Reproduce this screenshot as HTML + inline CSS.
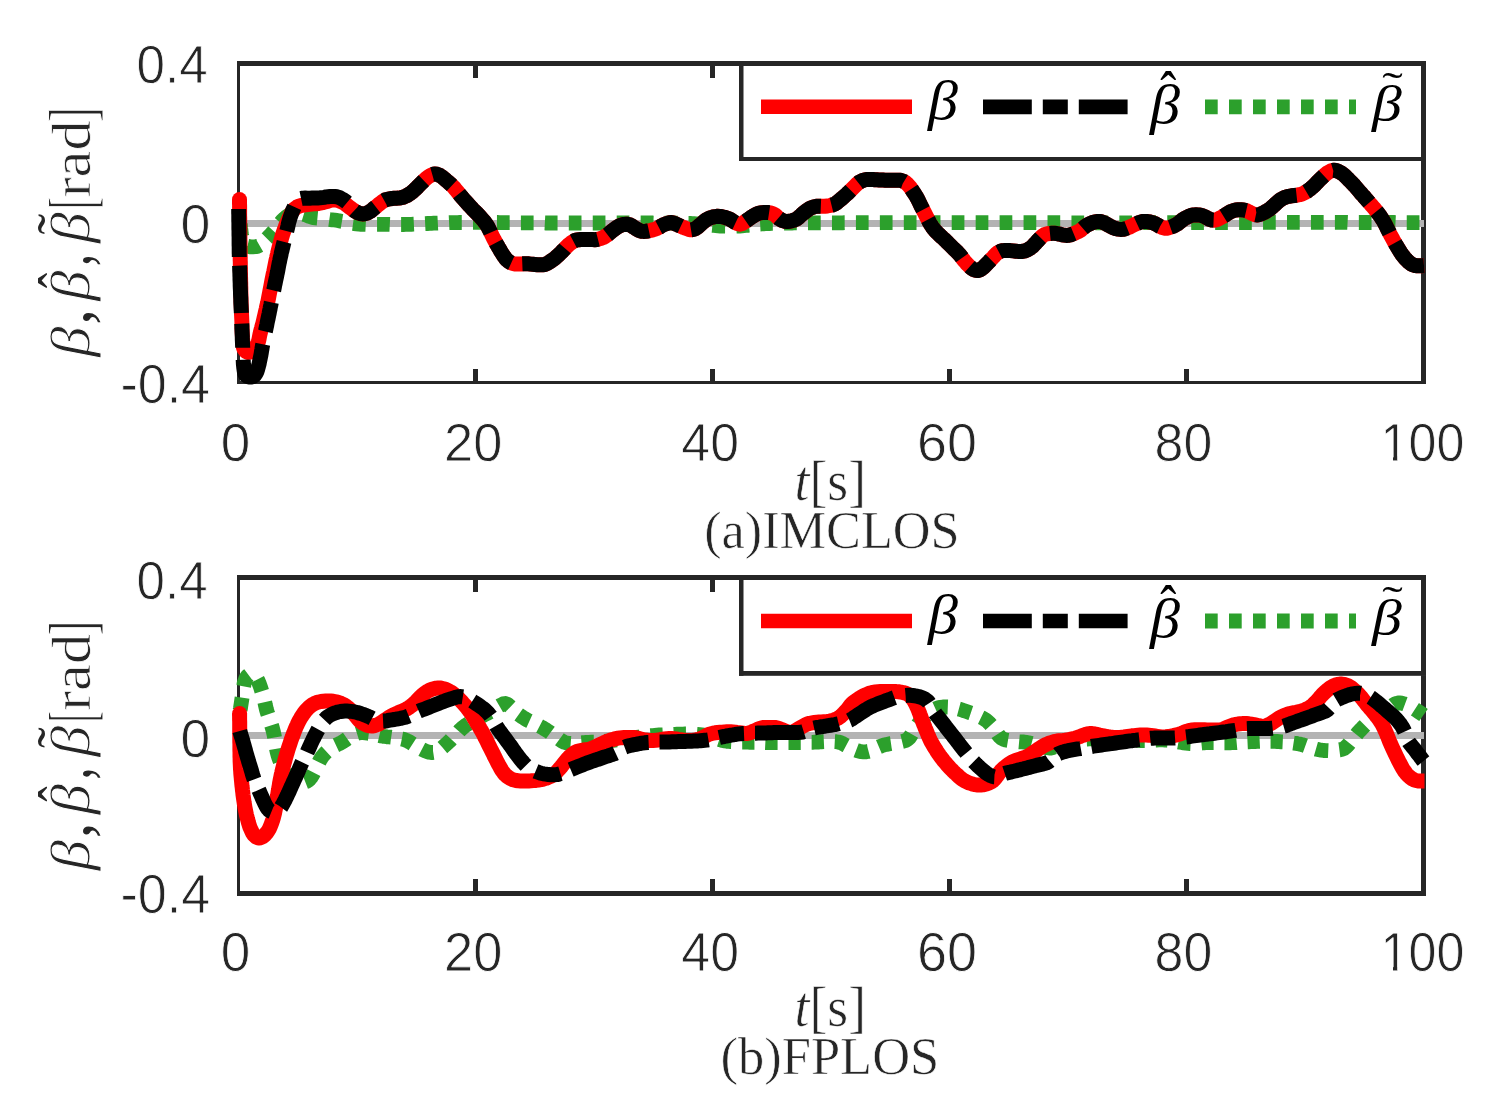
<!DOCTYPE html>
<html><head><meta charset="utf-8"><title>plot</title><style>html,body{margin:0;padding:0;background:#fff;}svg{display:block;}</style></head><body>
<svg width="1491" height="1099" viewBox="0 0 1491 1099">
<rect x="0" y="0" width="1491" height="1099" fill="#ffffff"/>
<defs><clipPath id="nofoot0"><rect x="1370" y="396.6" width="110" height="60"/><rect x="1393" y="456.6" width="4.2" height="6"/><rect x="1406" y="456.6" width="70" height="8"/></clipPath><clipPath id="nofoot1"><rect x="1370" y="905.9" width="110" height="60"/><rect x="1393" y="965.9" width="4.2" height="6"/><rect x="1406" y="965.9" width="70" height="8"/></clipPath></defs>
<rect x="237" y="61" width="3" height="323" fill="#262626"/>
<rect x="1421" y="61" width="5" height="323" fill="#262626"/>
<rect x="237" y="61" width="1189" height="5" fill="#262626"/>
<rect x="237" y="381" width="1189" height="3" fill="#262626"/>
<rect x="473.0" y="369" width="5" height="12" fill="#262626"/>
<rect x="473.0" y="66" width="5" height="12" fill="#262626"/>
<rect x="710.0" y="369" width="5" height="12" fill="#262626"/>
<rect x="710.0" y="66" width="5" height="12" fill="#262626"/>
<rect x="947.0" y="369" width="5" height="12" fill="#262626"/>
<rect x="947.0" y="66" width="5" height="12" fill="#262626"/>
<rect x="1184.0" y="369" width="5" height="12" fill="#262626"/>
<rect x="1184.0" y="66" width="5" height="12" fill="#262626"/>
<rect x="240" y="221.0" width="12" height="5" fill="#262626"/>
<rect x="1409" y="221.0" width="12" height="5" fill="#262626"/>
<line x1="238.5" y1="223.5" x2="1424" y2="223.5" stroke="#b3b3b3" stroke-width="7"/>
<path d="M239.5,213.0 239.7,215.2 239.8,217.4 239.9,219.6 240.1,221.8 240.3,224.0 240.5,226.2 240.7,228.5 241.0,230.8 241.2,232.9 241.6,235.0 242.2,237.7 242.8,240.3 243.8,242.5 245.4,244.7 247.5,246.2 250.2,246.8 253.0,246.8 255.6,246.7 258.0,246.2 260.1,245.0 262.0,243.5 263.8,241.8" fill="none" stroke="#2ca02c" stroke-width="14.8" stroke-dasharray="12.70 11.25" stroke-dashoffset="13.00" stroke-linejoin="round"/>
<path d="M263.8,241.8 265.5,240.0 267.2,238.3 269.0,236.4 270.6,234.7 272.3,232.9 274.0,231.0 275.3,229.4 276.5,227.8" fill="none" stroke="#2ca02c" stroke-width="14.8" stroke-dasharray="10.03 8.89" stroke-dashoffset="14.46" stroke-linejoin="round"/>
<path d="M276.5,227.8 277.7,226.1 279.0,224.5 280.3,222.9 281.6,221.4 283.0,219.9 284.5,218.5 286.2,217.0 288.1,215.6 290.1,214.4 292.0,213.5 294.3,213.0 296.7,213.0 299.0,213.2 301.4,213.6 303.7,214.3 306.0,215.0 308.0,215.8 309.9,216.6 312.0,217.3 313.8,217.7 315.7,218.0 317.8,218.2 320.0,218.5 321.8,218.7 323.7,218.9" fill="none" stroke="#2ca02c" stroke-width="14.8" stroke-dasharray="14.29 12.66" stroke-dashoffset="20.59" stroke-linejoin="round"/>
<path d="M323.7,218.9 325.8,219.1 328.0,219.3 330.1,219.6 332.3,219.8 334.4,220.0 336.3,220.3 338.8,220.7 341.1,221.2 343.4,221.6 345.7,222.1 348.0,222.5 350.2,222.9 352.2,223.3 354.4,223.6 356.6,223.9 359.1,224.2 360.8,224.3 362.6,224.4 364.5,224.4 366.5,224.5 368.5,224.5 370.6,224.5 372.7,224.5 374.9,224.4 377.0,224.4 379.2,224.4 381.3,224.4 383.3,224.4 385.3,224.4 387.3,224.4 389.3,224.4 391.3,224.5 393.3,224.5 395.4,224.5 397.4,224.5 399.4,224.5 401.4,224.5 403.4,224.5 405.4,224.4 407.4,224.4 409.4,224.3 411.4,224.3 413.4,224.2 415.5,224.1 417.5,224.0 419.5,223.9" fill="none" stroke="#2ca02c" stroke-width="14.8" stroke-dasharray="12.76 11.30" stroke-dashoffset="18.39" stroke-linejoin="round"/>
<path d="M419.5,223.9 421.5,223.8 423.5,223.7 425.6,223.6 427.6,223.5 429.6,223.4 431.6,223.3 433.6,223.2 435.6,223.2 437.6,223.1 439.6,223.0 441.6,223.0 443.6,222.9 445.7,222.8 447.7,222.8 449.7,222.7 451.7,222.7 453.7,222.6 455.7,222.6 457.7,222.6 459.7,222.5 461.6,222.5 463.6,222.5 465.5,222.5 467.5,222.4 469.4,222.4 471.4,222.4 473.5,222.4 475.6,222.4 477.8,222.4 480.0,222.4 481.8,222.4 483.6,222.4 485.5,222.4 487.4,222.4 489.3,222.5 491.3,222.5 493.3,222.5 495.3,222.5 497.3,222.5 499.4,222.6 501.4,222.6 503.5,222.6 505.6,222.6 507.7,222.7 509.8,222.7 511.8,222.7 513.9,222.7 516.0,222.8 518.0,222.8 520.0,222.8 522.0,222.8 524.0,222.8 526.0,222.8 528.0,222.9 530.0,222.9 532.0,222.9 534.0,222.9 536.0,222.9 538.0,222.9 540.0,222.9 542.0,222.9 544.0,222.9 546.0,223.0 548.0,223.0 550.0,223.0 552.0,223.0 554.0,223.0 556.0,223.0 558.0,223.0 560.0,223.0 562.0,223.0 564.0,223.0 566.0,223.0 568.0,223.0 570.0,223.0 572.0,223.0 574.0,223.0 576.0,223.0 578.0,223.0 580.0,223.0 582.0,223.0 584.0,223.0 586.0,223.0 588.0,223.0 590.0,223.0 592.0,223.0 594.0,223.0 596.0,223.0 598.0,223.0 600.0,223.0 602.0,223.0 604.0,223.0 606.0,223.0 608.0,223.0 610.0,223.0 612.0,223.0 614.0,223.0 616.0,223.0 618.0,223.0 620.0,223.0 622.0,223.0 624.0,223.0 626.0,223.0 628.0,223.0 630.0,223.0 632.0,223.0 634.0,223.0 636.0,223.0 638.0,223.0 640.0,223.0 642.0,223.0 644.1,223.0 646.1,223.0 648.2,223.0 650.3,223.0 652.4,223.0 654.5,223.1 656.7,223.1 658.8,223.1 660.9,223.1 662.9,223.1 665.0,223.1 667.0,223.1 669.0,223.1 671.0,223.2 672.9,223.2 674.7,223.2 676.6,223.2 678.3,223.3 680.0,223.3 682.3,223.3 684.4,223.4 686.5,223.4 688.5,223.5 690.4,223.5 692.3,223.6 694.2,223.7 696.1,223.8 698.0,223.9 700.0,224.0 702.0,224.2 704.0,224.3 706.0,224.6 708.0,224.8 710.0,225.0 712.0,225.3 714.0,225.5 716.0,225.7 718.0,225.9 720.0,226.0 722.0,226.1 724.0,226.2 726.0,226.2 728.0,226.2 730.0,226.2 732.0,226.2 734.0,226.2 736.0,226.2 738.0,226.1 740.0,226.0 742.0,225.9 743.9,225.7 745.9,225.5 747.8,225.3 749.7,225.1 751.7,224.8 753.7,224.6 755.7,224.4 757.8,224.2 760.0,224.0 761.8,223.9 763.7,223.8 765.5,223.7 767.4,223.6 769.4,223.5 771.4,223.4 773.3,223.4 775.4,223.3 777.4,223.3 779.5,223.2 781.5,223.2 783.6,223.1 785.7,223.1 787.9,223.0 790.0,223.0 791.9,223.0 793.7,222.9 795.6,222.9 797.5,222.9 799.3,222.9 801.2,222.9 803.1,222.9 805.1,222.8 807.0,222.8 808.9,222.8 810.9,222.8 812.9,222.8 814.9,222.8 817.0,222.8 819.1,222.8 821.2,222.8 823.3,222.8 825.5,222.8 827.7,222.8 830.0,222.8 831.7,222.8 833.5,222.8 835.3,222.8 837.1,222.8 838.9,222.8 840.7,222.8 842.6,222.8 844.4,222.7 846.3,222.7 848.2,222.7 850.1,222.7 852.1,222.7 854.0,222.7 856.0,222.7 858.0,222.7 860.0,222.7 862.0,222.7 864.0,222.7 866.1,222.7 868.1,222.7 870.2,222.7 872.2,222.7 874.3,222.7 876.4,222.6 878.5,222.6 880.6,222.6 882.8,222.6 884.9,222.6 887.0,222.6 889.2,222.6 891.3,222.6 893.5,222.6 895.7,222.6 897.8,222.6 900.0,222.6 901.8,222.6 903.7,222.6 905.5,222.6 907.4,222.6 909.3,222.6 911.2,222.6 913.1,222.6 915.0,222.6 916.9,222.6 918.9,222.6 920.8,222.6 922.8,222.6 924.7,222.6 926.7,222.6 928.7,222.6 930.7,222.6 932.7,222.6 934.7,222.6 936.7,222.6 938.7,222.6 940.7,222.6 942.8,222.6 944.8,222.6 946.8,222.6 948.9,222.6 950.9,222.6 953.0,222.6 955.0,222.6 957.1,222.6 959.1,222.6 961.2,222.6 963.3,222.6 965.3,222.6 967.4,222.6 969.4,222.6 971.5,222.6 973.6,222.6 975.6,222.6 977.7,222.6 979.7,222.6 981.8,222.6 983.8,222.6 985.9,222.6 987.9,222.6 989.9,222.6 991.9,222.6 994.0,222.6 996.0,222.6 998.0,222.6 1000.0,222.6 1002.0,222.6 1004.0,222.6 1006.0,222.6 1008.0,222.6 1010.0,222.6 1012.0,222.6 1014.0,222.6 1016.0,222.6 1018.0,222.6 1020.0,222.6 1022.0,222.6 1024.0,222.6 1026.0,222.6 1028.0,222.7 1030.0,222.7 1032.0,222.7 1034.0,222.7 1036.0,222.7 1038.0,222.7 1040.0,222.7 1042.0,222.7 1044.0,222.7 1046.0,222.7 1048.0,222.7 1050.0,222.7 1052.0,222.7 1054.0,222.7 1056.0,222.7 1058.0,222.7 1060.0,222.7 1062.0,222.7 1064.0,222.7 1066.0,222.8 1068.0,222.8 1070.0,222.8 1072.0,222.8 1074.0,222.8 1076.0,222.8 1078.0,222.8 1080.0,222.8 1082.0,222.8 1084.0,222.8 1086.0,222.8 1088.0,222.8 1090.0,222.8 1092.0,222.8 1094.0,222.8 1096.0,222.8 1098.0,222.8 1100.0,222.8 1102.0,222.8 1104.0,222.8 1106.0,222.8 1108.0,222.8 1110.0,222.8 1112.0,222.8 1114.0,222.8 1116.0,222.8 1118.0,222.8 1120.0,222.8 1122.0,222.8 1124.0,222.8 1126.0,222.8 1128.0,222.8 1130.0,222.8 1132.0,222.8 1134.0,222.8 1136.0,222.8 1138.0,222.8 1140.0,222.7 1142.0,222.7 1144.0,222.7 1146.0,222.7 1148.0,222.7 1150.0,222.7 1152.0,222.7 1154.0,222.7 1156.0,222.7 1158.0,222.7 1160.0,222.7 1162.0,222.7 1164.0,222.7 1166.0,222.7 1168.0,222.7 1170.0,222.7 1172.0,222.7 1174.0,222.7 1176.0,222.7 1178.0,222.7 1180.0,222.6 1182.0,222.6 1184.0,222.6 1186.0,222.6 1188.0,222.6 1190.0,222.6 1192.0,222.6 1194.0,222.6 1196.0,222.6 1198.0,222.6 1200.0,222.6 1202.0,222.6 1204.0,222.6 1206.0,222.6 1208.0,222.6 1210.0,222.6 1211.9,222.6 1213.9,222.6 1215.9,222.6 1217.9,222.6 1219.9,222.6 1221.8,222.5 1223.8,222.5 1225.8,222.5 1227.7,222.5 1229.7,222.5 1231.7,222.5 1233.7,222.5 1235.6,222.5 1237.6,222.5 1239.6,222.5 1241.5,222.5 1243.5,222.5 1245.5,222.5 1247.5,222.5 1249.4,222.5 1251.4,222.5 1253.4,222.5 1255.4,222.5 1257.4,222.5 1259.3,222.5 1261.3,222.4 1263.3,222.4 1265.3,222.4 1267.3,222.4 1269.3,222.4 1271.3,222.4 1273.4,222.4 1275.4,222.4 1277.4,222.4 1279.4,222.4 1281.4,222.4 1283.5,222.4 1285.5,222.4 1287.6,222.4 1289.6,222.4 1291.7,222.4 1293.8,222.4 1295.8,222.4 1297.9,222.4 1300.0,222.4 1301.9,222.4 1303.8,222.4 1305.8,222.4 1307.7,222.4 1309.6,222.4 1311.6,222.4 1313.5,222.4 1315.5,222.4 1317.4,222.4 1319.4,222.4 1321.3,222.4 1323.3,222.4 1325.3,222.4 1327.3,222.4 1329.2,222.4 1331.2,222.4 1333.2,222.4 1335.2,222.4 1337.2,222.4 1339.2,222.4 1341.2,222.4 1343.2,222.4 1345.2,222.4 1347.2,222.4 1349.2,222.5 1351.2,222.5 1353.3,222.5 1355.3,222.5 1357.3,222.5 1359.3,222.5 1361.3,222.5 1363.4,222.5 1365.4,222.5 1367.4,222.5 1369.4,222.5 1371.5,222.5 1373.5,222.5 1375.5,222.5 1377.6,222.5 1379.6,222.5 1381.6,222.5 1383.7,222.5 1385.7,222.5 1387.7,222.5 1389.7,222.5 1391.8,222.5 1393.8,222.5 1395.8,222.6 1397.8,222.6 1399.9,222.6 1401.9,222.6 1403.9,222.6 1405.9,222.6 1408.0,222.6 1410.0,222.6 1412.0,222.6 1414.0,222.6 1416.0,222.6 1418.0,222.6 1420.0,222.6" fill="none" stroke="#2ca02c" stroke-width="14.8" stroke-dasharray="12.70 11.25" stroke-dashoffset="18.30" stroke-linejoin="round"/>
<path d="M239.5,199.5 239.5,201.5 239.5,203.5 239.6,205.5 239.6,207.5 239.6,209.5 239.6,211.5 239.6,213.5 239.6,215.5 239.7,217.5 239.7,219.5 239.7,221.6 239.7,223.6 239.7,225.7 239.8,227.8 239.8,230.0 239.8,231.9 239.8,233.8 239.9,235.7 239.9,237.7 239.9,239.7 240.0,241.7 240.0,243.7 240.0,245.7 240.0,247.8 240.1,249.8 240.1,251.9 240.1,253.9 240.2,256.0 240.2,258.0 240.2,260.1 240.3,262.1 240.3,264.1 240.3,266.1 240.4,268.1 240.4,270.0 240.4,272.1 240.5,274.3 240.5,276.5 240.6,278.7 240.6,280.9 240.7,283.1 240.7,285.3 240.8,287.5 240.8,289.6 240.8,291.7 240.9,293.8 240.9,295.8 241.0,297.8 241.0,299.7 241.1,301.6 241.1,303.3 241.2,305.0 241.3,307.5 241.4,309.7 241.5,311.8 241.5,313.8 241.6,315.8 241.7,317.8 241.8,320.0 241.9,322.0 241.9,324.0 242.0,326.0 242.0,328.1 242.1,330.2 242.2,332.3 242.3,334.3 242.4,336.2 242.5,338.0 242.7,340.5 242.8,342.9 243.0,345.2 243.4,347.3 244.0,349.0 245.8,351.3 248.0,352.5 250.0,352.1 252.0,351.0 253.9,349.4 255.5,347.5 256.9,345.4 258.0,342.8 258.6,340.9 259.1,338.8 259.5,336.5 260.0,334.2 260.5,332.0 261.0,329.9 261.6,327.9 262.1,325.9 262.7,323.9 263.2,321.8 263.7,319.7 264.2,317.5 264.7,315.3 265.2,313.1 265.7,311.0 266.2,309.0 266.6,306.9 267.1,304.9 267.6,302.9 268.0,300.9 268.4,298.8 268.8,296.8 269.2,294.7 269.6,292.6 270.0,290.5 270.4,288.4 270.8,286.3 271.2,284.3 271.6,282.1 272.0,280.0 272.4,278.0 272.8,276.1 273.2,274.0 273.7,272.0 274.1,270.0 274.5,268.0 274.9,266.0 275.3,264.0 275.7,262.0 276.1,260.0 276.6,258.0 277.0,256.0 277.5,254.0 277.9,252.0 278.4,250.0 278.9,248.0 279.5,246.0 280.0,244.0 280.5,242.0 281.1,240.0 281.6,238.0 282.2,236.1 282.8,234.0 283.5,232.0 284.2,230.0 285.0,227.9 285.7,225.8 286.6,223.7 287.4,221.7 288.2,219.8 289.0,218.0 290.0,215.9 290.9,213.9 291.9,212.1 293.0,210.5 294.9,208.5 297.0,207.0 299.4,206.0 302.0,205.3 303.8,205.0 305.8,204.7 307.9,204.5 310.0,204.3 312.0,204.1 314.0,203.9 316.1,203.7 318.1,203.5 320.0,203.2 322.5,202.7 324.8,202.1 327.0,201.5 329.6,200.7 332.0,200.0 334.0,199.9 336.0,200.0 338.0,200.5 340.0,201.2 342.0,202.0 344.0,203.0 346.2,204.6 348.5,206.5 350.1,207.7 351.8,208.9 353.5,210.2 355.1,211.2 357.6,212.6 360.0,213.5 362.5,213.9 365.0,213.8 367.5,212.9 370.0,211.5 371.7,210.3 373.3,208.9 375.0,207.5 376.7,206.2 378.3,204.8 380.0,203.5 381.6,202.2 383.2,201.0 385.0,200.0 387.2,199.3 389.5,198.9 392.0,198.5 394.2,198.3 396.4,198.2 398.7,198.1 400.7,197.8 403.5,197.1 406.0,196.0 407.9,195.0 409.7,193.8 411.5,192.5 413.4,190.9 415.2,189.2 417.0,187.5 418.7,185.7 420.4,184.0 422.2,182.2 424.1,180.4 426.0,178.6 428.0,177.0 430.0,175.7 432.2,174.6 434.3,174.0 437.2,174.3 440.0,175.5 441.6,176.5 443.2,177.8 444.8,179.2 446.3,180.5 448.3,182.1 450.2,183.8 452.0,185.5 453.8,187.3 455.4,189.3 457.1,191.2 458.7,193.2 460.3,195.2 462.0,197.3 463.4,198.9 464.9,200.6 466.4,202.2 467.8,203.8 469.5,205.7 471.3,207.6 473.0,209.5 474.8,211.3 476.6,213.0 478.5,215.0 479.8,216.4 481.1,217.8 482.4,219.3 483.8,220.9 485.1,222.6 486.4,224.4 487.5,226.1 488.5,228.0 489.5,229.9 490.5,232.0 491.4,234.0 492.4,236.1 493.4,238.1 494.4,240.0 495.4,241.8 496.4,243.7 497.5,245.6 498.5,247.4 499.6,249.2 500.6,251.0 501.6,252.6 502.5,254.0 504.0,256.3 505.4,258.3 507.0,260.0 508.7,261.4 510.6,262.6 512.6,263.5 514.6,263.9 516.8,264.0 519.0,264.0 521.5,263.9 524.0,263.8 526.6,263.7 528.7,263.8 530.7,264.1 532.8,264.3 535.0,264.5 537.4,264.7 540.0,264.8 542.4,264.8 544.7,264.5 547.0,263.6 549.0,262.4 551.0,261.0 553.0,259.6 554.9,258.2 556.8,256.6 558.4,255.2 559.9,253.6 561.5,252.1 563.0,250.5 564.5,249.0 565.9,247.4 567.4,246.0 568.9,244.6 570.9,243.0 572.9,241.6 575.0,240.5 576.9,239.9 578.9,239.7 581.0,239.5 583.1,239.4 585.5,239.4 587.8,239.5 590.0,239.5 592.4,239.6 594.7,239.7 597.0,239.5 599.0,239.0 601.1,238.3 603.1,237.5 605.0,236.5 606.8,235.3 608.6,233.9 610.3,232.4 612.0,231.0 613.8,229.6 615.6,228.3 617.5,227.0 619.2,226.0 621.6,225.0 624.0,224.4 626.6,224.2 629.3,224.6 631.2,225.5 633.1,226.8 635.0,228.0 637.0,229.2 639.1,230.4 641.3,231.2 643.5,231.4 645.7,231.3 648.0,231.0 650.3,230.5 652.7,229.9 655.2,229.1 657.4,228.2 659.7,227.0 661.8,225.6 664.0,224.5 666.5,223.6 669.0,222.8 671.5,222.6 673.7,223.1 675.8,224.0 678.0,225.0 679.9,225.8 681.8,226.7 683.8,227.6 685.6,228.3 688.4,229.3 691.0,229.8 693.5,229.4 696.0,228.3 697.9,226.9 699.8,225.2 701.7,223.5 703.4,222.0 705.2,220.5 707.0,219.3 708.9,218.3 710.9,217.6 713.0,217.0 715.2,216.6 717.6,216.3 720.0,216.4 722.0,216.7 724.2,217.2 726.3,217.9 728.4,218.6 730.2,219.4 732.7,221.0 735.0,222.5 737.6,223.7 740.2,224.2 742.1,223.6 744.1,222.3 746.0,221.0 748.1,219.6 750.2,218.0 752.3,216.6 754.2,215.4 756.1,214.4 758.0,213.5 760.1,212.9 762.3,212.6 764.4,212.4 767.3,212.4 770.0,212.8 772.3,213.4 774.4,214.4 775.9,215.6 777.4,217.1 779.0,218.5 780.8,219.6 782.6,220.6 784.5,221.2 787.2,221.5 790.0,221.2 792.2,220.7 794.4,220.0 796.6,219.0 798.2,217.8 799.8,216.4 801.4,214.9 803.0,213.5 804.9,212.0 806.8,210.5 808.8,209.1 810.7,208.0 812.8,207.2 814.8,206.6 817.0,206.3 819.6,206.2 822.2,206.3 824.7,206.3 827.4,206.0 830.0,205.5 832.4,204.9 834.8,204.0 836.5,202.9 838.2,201.5 840.0,200.0 841.7,198.6 843.4,197.1 845.2,195.5 846.9,194.0 848.5,192.5 850.0,191.0 851.5,189.5 853.0,188.0 854.5,186.5 856.0,185.0 857.5,183.6 859.0,182.4 861.5,181.0 864.0,180.0 866.4,179.5 869.0,179.4 870.9,179.4 872.9,179.5 875.0,179.7 877.0,179.8 879.0,179.9 881.1,180.0 883.1,180.1 885.1,180.2 887.7,180.2 890.4,180.2 893.0,180.2 895.1,180.2 897.3,180.2 899.3,180.2 901.2,180.5 903.5,181.3 905.5,182.5 907.5,184.2 909.3,186.2 910.6,187.8 911.8,189.6 913.0,191.5 914.1,193.1 915.2,194.8 916.3,196.5 917.3,198.3 918.3,200.2 919.2,202.1 920.1,204.0 921.0,206.0 922.1,208.1 923.2,210.2 924.3,212.3 925.4,214.4 926.6,216.8 927.8,219.2 929.0,221.5 930.0,223.3 931.1,225.1 932.2,226.8 933.4,228.5 934.7,230.1 936.1,231.6 937.5,233.0 939.0,234.5 940.6,236.0 942.2,237.5 943.9,239.0 945.5,240.5 947.1,242.1 948.7,243.7 950.3,245.3 952.0,247.0 953.5,248.5 955.1,250.0 956.7,251.5 958.2,253.1 959.6,254.6 960.9,256.2 962.1,257.9 963.3,259.5 964.5,261.0 966.2,263.0 967.9,264.8 969.6,266.5 971.5,268.2 973.5,269.5 975.6,270.3 977.7,270.5 979.9,269.8 982.0,268.5 983.9,266.9 985.9,264.9 987.7,263.0 989.2,261.5 990.5,260.0 992.0,258.5 993.4,257.0 994.8,255.4 996.3,253.8 997.8,252.6 1000.3,251.3 1003.0,250.6 1005.3,250.4 1007.8,250.5 1010.2,250.6 1013.1,250.9 1016.0,251.2 1018.1,251.4 1020.3,251.5 1022.3,251.4 1024.7,250.9 1027.0,250.0 1028.8,249.1 1030.6,247.9 1032.3,246.6 1033.7,245.2 1035.1,243.7 1036.5,242.1 1038.0,240.5 1039.5,238.9 1041.1,237.3 1042.7,235.8 1044.4,234.7 1047.1,233.8 1050.0,233.5 1052.1,233.3 1054.4,233.3 1056.5,233.5 1059.3,234.1 1062.0,234.8 1064.1,235.1 1066.4,235.4 1068.5,235.3 1071.3,234.6 1074.0,233.5 1076.2,232.6 1078.5,231.5 1080.6,230.3 1082.8,228.4 1085.0,226.5 1086.8,225.3 1088.8,224.3 1090.7,223.4 1092.8,222.5 1095.0,221.8 1097.8,221.4 1100.7,221.5 1103.4,222.5 1106.0,223.8 1108.4,225.2 1110.8,226.5 1113.3,227.7 1116.0,228.7 1118.2,229.1 1120.6,229.4 1122.9,229.3 1125.0,228.9 1127.0,228.1 1129.0,227.3 1131.0,226.4 1133.0,225.4 1134.9,224.4 1137.5,223.2 1140.0,222.2 1142.5,221.6 1145.0,221.4 1147.5,221.6 1150.0,222.0 1152.5,222.7 1155.0,223.6 1157.5,225.0 1160.0,226.5 1162.5,227.6 1165.1,228.3 1167.0,228.2 1169.0,227.7 1171.0,227.0 1173.1,226.2 1175.1,225.2 1177.2,224.0 1178.9,222.8 1180.6,221.4 1182.3,220.0 1184.0,218.8 1185.8,217.8 1187.7,216.8 1189.6,216.0 1191.3,215.4 1193.7,214.9 1196.0,214.8 1198.7,214.9 1201.3,215.4 1203.8,216.3 1206.2,217.4 1208.1,218.5 1210.0,219.5 1212.4,220.1 1214.9,220.2 1217.5,219.3 1220.0,218.0 1221.8,217.1 1223.6,216.0 1225.3,215.0 1227.6,213.4 1230.0,212.0 1231.9,211.2 1233.8,210.5 1235.8,210.0 1238.4,209.7 1241.0,209.8 1243.7,210.0 1246.3,210.6 1248.6,211.7 1251.0,213.0 1252.9,213.8 1254.8,214.6 1256.7,215.0 1259.3,214.6 1262.0,213.5 1264.3,212.4 1266.6,211.1 1268.9,209.7 1270.5,208.5 1272.0,207.2 1273.5,205.8 1275.0,204.5 1276.5,203.1 1278.1,201.7 1279.6,200.4 1281.1,199.3 1283.5,198.0 1286.0,197.0 1288.8,196.3 1291.6,195.8 1294.3,195.5 1297.0,195.2 1299.5,194.7 1302.0,194.0 1304.5,192.8 1307.0,191.3 1308.8,190.0 1310.7,188.6 1312.5,187.1 1314.4,185.3 1316.2,183.4 1318.0,181.5 1319.7,179.8 1321.3,178.2 1323.0,176.6 1324.6,175.1 1326.3,173.7 1328.0,172.5 1330.7,171.0 1333.4,170.2 1336.0,170.5 1338.5,171.5 1340.3,172.4 1342.2,173.6 1343.9,174.9 1345.6,176.5 1347.3,178.2 1349.0,180.0 1350.8,181.8 1352.6,183.6 1354.4,185.5 1356.1,187.5 1357.8,189.5 1359.5,191.5 1360.8,193.0 1362.1,194.5 1363.5,196.0 1364.8,197.5 1366.5,199.5 1368.3,201.5 1370.0,203.5 1371.3,205.0 1372.7,206.6 1374.0,208.1 1375.3,209.7 1376.9,211.7 1378.5,213.7 1380.0,215.7 1381.4,217.8 1382.7,219.8 1384.0,222.0 1385.2,224.3 1386.4,226.7 1387.5,229.0 1388.7,231.3 1389.8,233.6 1391.0,235.9 1392.2,238.0 1393.3,240.1 1394.5,242.2 1395.6,244.2 1396.8,246.1 1398.0,248.1 1399.3,250.2 1400.6,252.4 1402.0,254.5 1403.5,256.4 1405.1,258.3 1406.7,260.0 1408.8,262.1 1411.0,263.8 1413.2,264.8 1415.4,265.5 1417.4,265.8 1419.5,265.8 1421.7,265.7 1424.0,265.5" fill="none" stroke="#ff0000" stroke-width="15" stroke-linejoin="round"/>
<circle cx="239.5" cy="199.5" r="7.5" fill="#ff0000"/>
<path d="M238.7,209.0 238.7,211.0 238.7,213.0 238.8,215.0 238.8,217.0 238.8,219.0 238.8,221.0 238.9,223.0 238.9,225.0 238.9,227.0 238.9,229.0 239.0,231.0 239.0,233.0 239.0,235.0 239.1,237.0 239.1,239.0 239.1,241.0 239.1,243.0 239.1,245.0 239.2,247.0 239.2,249.0 239.2,251.0 239.2,253.0 239.3,255.0 239.3,257.0" fill="none" stroke="#000000" stroke-width="15"/>
<path d="M239.6,265.7 239.7,267.7 239.7,269.7 239.8,271.6 239.9,273.6 239.9,275.5 240.0,277.5 240.0,279.4 240.1,281.5 240.2,283.5 240.2,285.6 240.3,287.8 240.4,290.0 240.5,291.8 240.5,293.6 240.6,295.6 240.7,297.5 240.8,299.5 240.8,301.6 240.9,303.6 241.0,305.7 241.1,307.8 241.2,310.0 241.3,312.1 241.4,314.2 241.4,316.3 241.5,318.4 241.6,320.4 241.7,322.4 241.8,324.4 241.9,326.3 241.9,328.2 242.0,330.0 242.1,332.3 242.2,334.6 242.3,336.9 242.3,339.1 242.4,341.2 242.5,343.4 242.6,345.5 242.7,347.5 242.7,349.5 242.8,351.4 242.9,353.2" fill="none" stroke="#000000" stroke-width="15" stroke-dasharray="47.33 10.67 24.25 10.67" stroke-dashoffset="0.00" stroke-linejoin="round"/>
<path d="M242.9,353.2 243.0,355.0 243.1,357.5 243.2,359.8 243.3,362.0 243.4,364.1 243.6,366.1 243.8,368.0 244.2,370.7 244.6,373.1 245.5,375.0 247.1,376.3 249.0,377.0 251.0,377.1 253.0,376.5 254.6,375.3 256.0,373.5 257.0,371.3 257.8,368.7 258.5,366.0 259.1,363.9 259.5,361.7 260.0,359.4 260.5,357.0 260.9,355.2 261.2,353.3 261.5,351.3 261.9,349.2 262.2,347.2 262.6,345.1 263.0,343.0 263.4,341.0 263.8,339.1 264.2,337.1 264.6,335.1 265.0,333.0 265.5,331.0 265.9,329.0 266.3,327.0 266.8,324.8 267.2,322.5 267.7,320.2 268.2,318.0 268.6,315.8 269.1,313.6 269.5,311.4 270.0,309.1 270.4,306.8 270.9,304.6 271.3,302.4 271.8,300.2 272.2,298.0 272.6,295.9" fill="none" stroke="#000000" stroke-width="15" stroke-dasharray="58.08 13.09 29.75 13.09" stroke-dashoffset="107.46" stroke-linejoin="round"/>
<path d="M272.6,295.9 273.0,293.7 273.4,291.6 273.9,289.5 274.3,287.3 274.7,285.2 275.2,283.0 275.6,280.8 276.1,278.6 276.6,276.4 277.0,274.2 277.5,272.0 277.9,269.8 278.3,267.7 278.7,265.5 279.1,263.3 279.6,261.2 280.0,259.0 280.5,256.8 281.0,254.7 281.4,252.5 282.0,250.4 282.5,248.2 283.0,246.0 283.5,244.0 284.0,242.0 284.5,240.0 285.0,238.0 285.5,236.0 286.0,234.0 286.5,232.0 287.0,230.0 287.5,227.9 288.0,225.8 288.4,223.8 288.9,221.8 289.5,219.8 290.0,218.0 290.7,215.9 291.4,214.0 292.1,212.1 292.8,210.2 293.6,208.5 294.7,206.1 295.7,203.9 297.0,202.0" fill="none" stroke="#000000" stroke-width="15" stroke-dasharray="49.61 11.18 25.41 11.18" stroke-dashoffset="91.79" stroke-linejoin="round"/>
<path d="M297.0,202.0 298.8,200.0 301.0,198.6 302.9,198.2 305.2,198.1 307.6,198.2 310.0,198.2 312.0,198.1 314.0,198.1 316.0,198.0 318.0,197.9 320.0,197.8 322.0,197.6 324.1,197.3 326.1,196.9 328.1,196.7 330.0,196.5 332.5,196.4 334.8,196.5 337.0,196.8 339.6,197.7 342.0,199.0 343.9,200.1 345.7,201.4 347.4,202.8 349.3,204.9 351.0,207.0 353.0,209.2 355.1,211.2 357.5,212.6 360.0,213.5 362.5,213.9 365.0,213.8 367.5,212.9 370.0,211.5 371.7,210.3 373.3,208.9 375.0,207.5 376.7,206.2 378.3,204.8 380.0,203.5" fill="none" stroke="#000000" stroke-width="15" stroke-dasharray="47.77 10.77 24.47 10.77" stroke-dashoffset="88.40" stroke-linejoin="round"/>
<path d="M380.0,203.5 381.6,202.2 383.2,201.0 385.0,200.0 387.2,199.3 389.5,198.9 392.0,198.5 394.2,198.3 396.4,198.2 398.7,198.1 400.7,197.8 403.5,197.1 406.0,196.0 407.9,195.0 409.7,193.8 411.5,192.5 413.4,190.9 415.2,189.2 417.0,187.5 418.7,185.7 420.4,184.0 422.2,182.2 424.1,180.4 426.0,178.6 428.0,177.0 430.0,175.7 432.2,174.6 434.3,174.0 437.2,174.3 440.0,175.5 441.6,176.5 443.2,177.8 444.8,179.2 446.3,180.5 448.3,182.1 450.2,183.8 452.0,185.5 453.8,187.3 455.4,189.3" fill="none" stroke="#000000" stroke-width="15" stroke-dasharray="46.14 10.40 23.64 10.40" stroke-dashoffset="85.38" stroke-linejoin="round"/>
<path d="M455.4,189.3 457.1,191.2 458.7,193.2 460.3,195.2 462.0,197.3 463.4,198.9 464.9,200.6 466.4,202.2 467.8,203.8 469.5,205.7 471.3,207.6 473.0,209.5 474.8,211.3 476.6,213.0 478.5,215.0 479.8,216.4 481.1,217.8 482.4,219.3 483.8,220.9 485.1,222.6 486.4,224.4 487.5,226.1 488.5,228.0 489.5,229.9 490.5,232.0 491.4,234.0 492.4,236.1 493.4,238.1 494.4,240.0 495.4,241.8 496.4,243.7 497.5,245.6 498.5,247.4 499.6,249.2 500.6,251.0 501.6,252.6 502.5,254.0 504.0,256.3 505.4,258.3 507.0,260.0 508.7,261.4 510.6,262.6 512.6,263.5 514.6,263.9 516.8,264.0" fill="none" stroke="#000000" stroke-width="15" stroke-dasharray="50.43 11.37 25.84 11.37" stroke-dashoffset="93.32" stroke-linejoin="round"/>
<path d="M516.8,264.0 519.0,264.0 521.5,263.9 524.0,263.8 526.6,263.7 528.7,263.8 530.7,264.1 532.8,264.3 535.0,264.5 537.4,264.7 540.0,264.8 542.4,264.8 544.7,264.5 547.0,263.6 549.0,262.4 551.0,261.0 553.0,259.6 554.9,258.2 556.8,256.6 558.4,255.2 559.9,253.6 561.5,252.1 563.0,250.5 564.5,249.0 565.9,247.4 567.4,246.0 568.9,244.6 570.9,243.0 572.9,241.6 575.0,240.5 576.9,239.9 578.9,239.7 581.0,239.5 583.1,239.4 585.5,239.4 587.8,239.5 590.0,239.5 592.4,239.6 594.7,239.7 597.0,239.5 599.0,239.0 601.1,238.3 603.1,237.5" fill="none" stroke="#000000" stroke-width="15" stroke-dasharray="48.65 10.97 24.92 10.97" stroke-dashoffset="90.01" stroke-linejoin="round"/>
<path d="M603.1,237.5 605.0,236.5 606.8,235.3 608.6,233.9 610.3,232.4 612.0,231.0 613.8,229.6 615.6,228.3 617.5,227.0 619.2,226.0 621.6,225.0 624.0,224.4 626.6,224.2 629.3,224.6 631.2,225.5 633.1,226.8 635.0,228.0 637.0,229.2 639.1,230.4 641.3,231.2 643.5,231.4 645.7,231.3 648.0,231.0 650.3,230.5 652.7,229.9 655.2,229.1 657.4,228.2 659.7,227.0 661.8,225.6 664.0,224.5 666.5,223.6 669.0,222.8 671.5,222.6 673.7,223.1 675.8,224.0 678.0,225.0 679.9,225.8 681.8,226.7 683.8,227.6 685.6,228.3" fill="none" stroke="#000000" stroke-width="15" stroke-dasharray="46.44 10.47 23.79 10.47" stroke-dashoffset="85.93" stroke-linejoin="round"/>
<path d="M685.6,228.3 688.4,229.3 691.0,229.8 693.5,229.4 696.0,228.3 697.9,226.9 699.8,225.2 701.7,223.5 703.4,222.0 705.2,220.5 707.0,219.3 708.9,218.3 710.9,217.6 713.0,217.0 715.2,216.6 717.6,216.3 720.0,216.4 722.0,216.7 724.2,217.2 726.3,217.9 728.4,218.6 730.2,219.4 732.7,221.0 735.0,222.5 737.6,223.7 740.2,224.2 742.1,223.6 744.1,222.3 746.0,221.0 748.1,219.6 750.2,218.0 752.3,216.6 754.2,215.4 756.1,214.4 758.0,213.5 760.1,212.9 762.3,212.6 764.4,212.4 767.3,212.4 770.0,212.8 772.3,213.4 774.4,214.4" fill="none" stroke="#000000" stroke-width="15" stroke-dasharray="50.04 11.28 25.64 11.28" stroke-dashoffset="92.60" stroke-linejoin="round"/>
<path d="M774.4,214.4 775.9,215.6 777.4,217.1 779.0,218.5 780.8,219.6 782.6,220.6 784.5,221.2 787.2,221.5 790.0,221.2 792.2,220.7 794.4,220.0 796.6,219.0 798.2,217.8 799.8,216.4 801.4,214.9 803.0,213.5 804.9,212.0 806.8,210.5 808.8,209.1 810.7,208.0 812.8,207.2 814.8,206.6 817.0,206.3 819.6,206.2 822.2,206.3 824.7,206.3 827.4,206.0 830.0,205.5 832.4,204.9 834.8,204.0 836.5,202.9 838.2,201.5 840.0,200.0 841.7,198.6 843.4,197.1 845.2,195.5 846.9,194.0 848.5,192.5 850.0,191.0 851.5,189.5 853.0,188.0 854.5,186.5" fill="none" stroke="#000000" stroke-width="15" stroke-dasharray="47.79 10.77 24.48 10.77" stroke-dashoffset="88.43" stroke-linejoin="round"/>
<path d="M854.5,186.5 856.0,185.0 857.5,183.6 859.0,182.4 861.5,181.0 864.0,180.0 866.4,179.5 869.0,179.4 870.9,179.4 872.9,179.5 875.0,179.7 877.0,179.8 879.0,179.9 881.1,180.0 883.1,180.1 885.1,180.2 887.7,180.2 890.4,180.2 893.0,180.2 895.1,180.2 897.3,180.2 899.3,180.2 901.2,180.5 903.5,181.3 905.5,182.5 907.5,184.2 909.3,186.2 910.6,187.8 911.8,189.6 913.0,191.5 914.1,193.1 915.2,194.8 916.3,196.5 917.3,198.3 918.3,200.2 919.2,202.1 920.1,204.0 921.0,206.0 922.1,208.1 923.2,210.2 924.3,212.3 925.4,214.4" fill="none" stroke="#000000" stroke-width="15" stroke-dasharray="46.65 10.52 23.90 10.52" stroke-dashoffset="86.33" stroke-linejoin="round"/>
<path d="M925.4,214.4 926.6,216.8 927.8,219.2 929.0,221.5 930.0,223.3 931.1,225.1 932.2,226.8 933.4,228.5 934.7,230.1 936.1,231.6 937.5,233.0 939.0,234.5 940.6,236.0 942.2,237.5 943.9,239.0 945.5,240.5 947.1,242.1 948.7,243.7 950.3,245.3 952.0,247.0 953.5,248.5 955.1,250.0 956.7,251.5 958.2,253.1 959.6,254.6 960.9,256.2 962.1,257.9 963.3,259.5 964.5,261.0 966.2,263.0 967.9,264.8 969.6,266.5 971.5,268.2 973.5,269.5 975.6,270.3 977.7,270.5 979.9,269.8 982.0,268.5 983.9,266.9 985.9,264.9 987.7,263.0 989.2,261.5 990.5,260.0 992.0,258.5 993.4,257.0 994.8,255.4" fill="none" stroke="#000000" stroke-width="15" stroke-dasharray="51.56 11.62 26.41 11.62" stroke-dashoffset="95.40" stroke-linejoin="round"/>
<path d="M994.8,255.4 996.3,253.8 997.8,252.6 1000.3,251.3 1003.0,250.6 1005.3,250.4 1007.8,250.5 1010.2,250.6 1013.1,250.9 1016.0,251.2 1018.1,251.4 1020.3,251.5 1022.3,251.4 1024.7,250.9 1027.0,250.0 1028.8,249.1 1030.6,247.9 1032.3,246.6 1033.7,245.2 1035.1,243.7 1036.5,242.1 1038.0,240.5 1039.5,238.9 1041.1,237.3 1042.7,235.8 1044.4,234.7 1047.1,233.8 1050.0,233.5 1052.1,233.3 1054.4,233.3 1056.5,233.5 1059.3,234.1 1062.0,234.8 1064.1,235.1 1066.4,235.4 1068.5,235.3 1071.3,234.6 1074.0,233.5 1076.2,232.6 1078.5,231.5" fill="none" stroke="#000000" stroke-width="15" stroke-dasharray="47.14 10.63 24.15 10.63" stroke-dashoffset="87.23" stroke-linejoin="round"/>
<path d="M1078.5,231.5 1080.6,230.3 1082.8,228.4 1085.0,226.5 1086.8,225.3 1088.8,224.3 1090.7,223.4 1092.8,222.5 1095.0,221.8 1097.8,221.4 1100.7,221.5 1103.4,222.5 1106.0,223.8 1108.4,225.2 1110.8,226.5 1113.3,227.7 1116.0,228.7 1118.2,229.1 1120.6,229.4 1122.9,229.3 1125.0,228.9 1127.0,228.1 1129.0,227.3 1131.0,226.4 1133.0,225.4 1134.9,224.4 1137.5,223.2 1140.0,222.2 1142.5,221.6 1145.0,221.4 1147.5,221.6 1150.0,222.0 1152.5,222.7 1155.0,223.6 1157.5,225.0 1160.0,226.5 1162.5,227.6 1165.1,228.3" fill="none" stroke="#000000" stroke-width="15" stroke-dasharray="47.94 10.81 24.56 10.81" stroke-dashoffset="88.71" stroke-linejoin="round"/>
<path d="M1165.1,228.3 1167.0,228.2 1169.0,227.7 1171.0,227.0 1173.1,226.2 1175.1,225.2 1177.2,224.0 1178.9,222.8 1180.6,221.4 1182.3,220.0 1184.0,218.8 1185.8,217.8 1187.7,216.8 1189.6,216.0 1191.3,215.4 1193.7,214.9 1196.0,214.8 1198.7,214.9 1201.3,215.4 1203.8,216.3 1206.2,217.4 1208.1,218.5 1210.0,219.5 1212.4,220.1 1214.9,220.2 1217.5,219.3 1220.0,218.0 1221.8,217.1 1223.6,216.0 1225.3,215.0 1227.6,213.4 1230.0,212.0 1231.9,211.2 1233.8,210.5 1235.8,210.0 1238.4,209.7 1241.0,209.8 1243.7,210.0 1246.3,210.6 1248.6,211.7 1251.0,213.0" fill="none" stroke="#000000" stroke-width="15" stroke-dasharray="47.68 10.75 24.43 10.75" stroke-dashoffset="88.23" stroke-linejoin="round"/>
<path d="M1251.0,213.0 1252.9,213.8 1254.8,214.6 1256.7,215.0 1259.3,214.6 1262.0,213.5 1264.3,212.4 1266.6,211.1 1268.9,209.7 1270.5,208.5 1272.0,207.2 1273.5,205.8 1275.0,204.5 1276.5,203.1 1278.1,201.7 1279.6,200.4 1281.1,199.3 1283.5,198.0 1286.0,197.0 1288.8,196.3 1291.6,195.8 1294.3,195.5 1297.0,195.2 1299.5,194.7 1302.0,194.0 1304.5,192.8 1307.0,191.3 1308.8,190.0 1310.7,188.6 1312.5,187.1 1314.4,185.3 1316.2,183.4 1318.0,181.5 1319.7,179.8 1321.3,178.2 1323.0,176.6 1324.6,175.1 1326.3,173.7 1328.0,172.5" fill="none" stroke="#000000" stroke-width="15" stroke-dasharray="46.46 10.47 23.80 10.47" stroke-dashoffset="85.98" stroke-linejoin="round"/>
<path d="M1328.0,172.5 1330.7,171.0 1333.4,170.2 1336.0,170.5 1338.5,171.5 1340.3,172.4 1342.2,173.6 1343.9,174.9 1345.6,176.5 1347.3,178.2 1349.0,180.0 1350.8,181.8 1352.6,183.6 1354.4,185.5 1356.1,187.5 1357.8,189.5 1359.5,191.5 1360.8,193.0 1362.1,194.5 1363.5,196.0 1364.8,197.5 1366.5,199.5 1368.3,201.5 1370.0,203.5 1371.3,205.0 1372.7,206.6 1374.0,208.1 1375.3,209.7 1376.9,211.7 1378.5,213.7 1380.0,215.7 1381.4,217.8 1382.7,219.8 1384.0,222.0 1385.2,224.3 1386.4,226.7 1387.5,229.0 1388.7,231.3 1389.8,233.6 1391.0,235.9 1392.2,238.0" fill="none" stroke="#000000" stroke-width="15" stroke-dasharray="49.71 11.21 25.47 11.21" stroke-dashoffset="91.98" stroke-linejoin="round"/>
<path d="M1392.2,238.0 1393.3,240.1 1394.5,242.2 1395.6,244.2 1396.8,246.1 1398.0,248.1 1399.3,250.2 1400.6,252.4 1402.0,254.5 1403.5,256.4 1405.1,258.3 1406.7,260.0 1408.8,262.1 1411.0,263.8 1413.2,264.8 1415.4,265.5 1417.4,265.8 1419.5,265.8 1421.7,265.7 1424.0,265.5" fill="none" stroke="#000000" stroke-width="15" stroke-dasharray="48.80 11.00 25.00 11.00" stroke-dashoffset="90.30" stroke-linejoin="round"/>
<rect x="739" y="61" width="687" height="100" fill="#ffffff"/>
<rect x="739" y="61" width="4.5" height="100" fill="#262626"/>
<rect x="739" y="157" width="687" height="4" fill="#262626"/>
<rect x="739" y="61" width="687" height="5" fill="#262626"/>
<rect x="1421" y="61" width="5" height="100" fill="#262626"/>
<line x1="761" y1="106.8" x2="912" y2="106.8" stroke="#ff0000" stroke-width="14.6"/>
<line x1="983" y1="106.8" x2="1134" y2="106.8" stroke="#000" stroke-width="14.7" stroke-dasharray="48.8 11 25 11"/>
<line x1="1205" y1="106.8" x2="1356" y2="106.8" stroke="#2ca02c" stroke-width="14.8" stroke-dasharray="12.7 11.3"/>
<rect x="237" y="575" width="3" height="321" fill="#262626"/>
<rect x="1421" y="575" width="5" height="321" fill="#262626"/>
<rect x="237" y="575" width="1189" height="5" fill="#262626"/>
<rect x="237" y="891" width="1189" height="5" fill="#262626"/>
<rect x="473.0" y="879" width="5" height="12" fill="#262626"/>
<rect x="473.0" y="580" width="5" height="12" fill="#262626"/>
<rect x="710.0" y="879" width="5" height="12" fill="#262626"/>
<rect x="710.0" y="580" width="5" height="12" fill="#262626"/>
<rect x="947.0" y="879" width="5" height="12" fill="#262626"/>
<rect x="947.0" y="580" width="5" height="12" fill="#262626"/>
<rect x="1184.0" y="879" width="5" height="12" fill="#262626"/>
<rect x="1184.0" y="580" width="5" height="12" fill="#262626"/>
<rect x="240" y="733.0" width="12" height="5" fill="#262626"/>
<rect x="1409" y="733.0" width="12" height="5" fill="#262626"/>
<line x1="238.5" y1="735.5" x2="1424" y2="735.5" stroke="#b3b3b3" stroke-width="7"/>
<path d="M239.5,714.0 239.8,712.0 240.1,710.1 240.5,708.1 240.8,706.0 241.1,704.1 241.4,702.2 241.7,700.2 242.0,698.1 242.3,696.0 242.6,694.0 242.9,691.9 243.2,689.8 243.4,687.7 243.8,685.7 244.1,683.7 244.6,682.0 245.4,679.7 246.3,677.6 247.5,676.0 249.4,674.6 251.5,674.0 253.6,674.8 255.5,676.5 256.8,678.3 258.0,680.6 259.0,683.0 259.8,685.1 260.6,687.4 261.3,689.7 262.0,692.0 262.7,694.3 263.3,696.5 263.9,698.8 264.5,701.0 265.0,703.1 265.4,705.1 265.9,707.2 266.4,709.4 267.0,711.5 267.7,713.7 268.5,716.0 269.3,718.3 270.0,720.5 270.7,722.7 271.4,724.8 272.1,727.0 272.7,729.2 273.3,731.4 273.8,733.7 274.3,736.0 274.7,738.3 275.1,740.7 275.5,743.0" fill="none" stroke="#2ca02c" stroke-width="14.8" stroke-dasharray="12.70 11.30" stroke-dashoffset="20.08" stroke-linejoin="round"/>
<path d="M275.5,743.0 275.9,745.3 276.3,747.6 276.7,749.9 277.2,752.2 277.8,754.5 278.5,756.7 279.3,759.0 280.1,761.2 281.0,763.4 282.0,765.5 283.1,767.6 284.2,769.7 285.4,771.8 286.6,773.7 288.0,775.5 289.6,777.3 291.3,779.0 293.1,780.4 295.0,781.5 297.3,782.2 299.7,782.5 302.0,782.5 304.9,782.0 307.5,781.0 309.4,779.5 311.0,777.5 312.0,775.9 313.0,774.1 314.0,772.1 315.0,770.0 316.0,768.0 317.0,766.1 318.0,764.1 319.0,762.1 320.0,760.1 321.2,758.2 322.4,756.4 323.7,754.8 325.0,753.3 326.4,751.9 327.9,750.5 329.4,749.2 331.0,748.0 332.7,746.9 334.5,745.9 336.4,745.0 338.3,744.1 340.2,743.2 341.9,742.3 344.0,741.0 346.0,739.6 348.0,738.2 350.0,737.0 352.1,735.8" fill="none" stroke="#2ca02c" stroke-width="14.8" stroke-dasharray="13.00 11.57" stroke-dashoffset="18.73" stroke-linejoin="round"/>
<path d="M352.1,735.8 354.2,734.7 356.4,733.7 358.7,733.0 360.8,732.7 363.1,732.7 365.4,732.9 367.7,733.2 370.0,733.5 372.2,733.9 374.4,734.4 376.6,735.0 378.8,735.5 381.0,736.0 383.0,736.3 384.9,736.5 386.9,736.8 388.9,737.0 391.0,737.2 393.0,737.5 395.2,737.8 397.4,738.2 399.7,738.6 401.9,739.0 404.0,739.5 406.0,740.2 407.9,741.1 409.8,742.1 411.5,743.3 413.2,744.4 415.0,745.5 416.9,746.6 418.8,747.7 420.8,748.8 422.7,749.8 424.5,750.6 426.7,751.5 428.9,752.2 431.0,752.5 433.0,752.5 435.0,752.2 437.0,751.5 438.8,750.5 440.6,749.1 442.5,747.5 444.4,745.8 446.2,744.2 447.7,742.8 449.2,741.4 450.7,739.9 452.1,738.4 453.6,736.9 455.0,735.5" fill="none" stroke="#2ca02c" stroke-width="14.8" stroke-dasharray="12.02 10.70" stroke-dashoffset="17.33" stroke-linejoin="round"/>
<path d="M455.0,735.5 456.6,733.8 458.2,732.2 459.7,730.5 461.4,728.9 463.1,727.4 464.8,726.1 466.6,724.8 468.4,723.6 470.3,722.4 472.1,721.3 474.0,720.2 476.1,719.0 478.2,718.0 480.3,716.9 482.4,715.9 484.5,714.8 486.7,713.7 488.9,712.5 491.0,711.3 493.1,710.1 495.0,709.0 497.2,707.5 499.1,706.1 501.0,705.0 503.2,703.9 505.4,703.5 507.5,704.4 509.5,706.0 511.2,707.6 513.0,709.6 515.0,711.5 516.7,712.9 518.5,714.3 520.5,715.7 522.5,717.1 524.5,718.4 526.5,719.6 528.6,720.7 530.8,721.7 532.9,722.7 535.0,723.8 537.1,724.9 539.1,725.9 541.2,727.0 543.2,728.1 545.2,729.3 547.2,730.6 549.2,731.9 551.1,733.3 553.1,734.7 555.0,736.0" fill="none" stroke="#2ca02c" stroke-width="14.8" stroke-dasharray="12.69 11.29" stroke-dashoffset="18.29" stroke-linejoin="round"/>
<path d="M555.0,736.0 556.9,737.3 558.7,738.7 560.6,740.1 562.4,741.3 564.3,742.2 566.8,743.0 569.3,743.3 572.0,743.5 574.0,743.5 576.0,743.4 578.2,743.2 580.5,742.9 582.7,742.7 585.0,742.5 587.1,742.4 589.2,742.3 591.4,742.2 593.5,742.1 595.7,742.1 597.8,741.9 600.0,741.8 602.1,741.6 604.2,741.4 606.3,741.2 608.4,741.0 610.6,740.7 612.7,740.5 615.0,740.2 616.9,740.0 618.8,739.7 620.8,739.4 622.8,739.2 624.8,738.9 626.9,738.6 628.9,738.3 631.0,738.0 633.0,737.8 635.0,737.5 637.0,737.3 639.0,737.0 641.0,736.8 643.0,736.5 645.0,736.3 647.0,736.1 649.0,735.9 651.0,735.7 653.0,735.5 655.0,735.3 657.0,735.1 659.0,735.0 661.0,734.9 663.0,734.8 665.0,734.7 667.0,734.6 669.0,734.5 671.0,734.4 673.0,734.4 675.0,734.3 677.0,734.2 679.0,734.2 681.1,734.1 683.1,734.1 685.2,734.0 687.2,734.0 689.2,734.0 691.2,734.0 693.1,734.1 695.0,734.2 697.3,734.4 699.5,734.6 701.6,734.9 703.7,735.2 705.8,735.6 707.9,736.0 710.0,736.5 712.1,737.1 714.2,737.7 716.3,738.4 718.3,739.2 720.5,739.9 722.7,740.5 725.0,741.0 726.9,741.3 728.9,741.5 730.9,741.7 733.0,741.8 735.1,741.9 737.3,742.0 739.5,742.0 741.6,742.1 743.8,742.1 745.9,742.1 748.0,742.2 750.0,742.3 752.0,742.3 754.0,742.4 756.0,742.4 758.0,742.5 760.0,742.5 762.0,742.5 764.0,742.5 766.0,742.6 768.0,742.6 770.0,742.6 772.0,742.6 774.0,742.6 776.0,742.6 778.0,742.6 780.0,742.6 782.0,742.6 784.0,742.6 786.0,742.6 788.0,742.6 790.0,742.6 792.0,742.6 794.0,742.6 796.1,742.6 798.2,742.5 800.3,742.5 802.4,742.5 804.4,742.4 806.5,742.4 808.6,742.4 810.6,742.3 812.6,742.3 814.5,742.2 816.8,742.1 819.2,742.0 821.5,741.8 823.8,741.7 826.0,741.6 828.2,741.5 830.2,741.5 832.0,741.5 834.2,741.6 836.2,741.7 838.1,742.0 840.0,742.5 841.8,743.2 843.6,744.1 845.3,745.1 847.2,746.1 849.0,747.0 851.0,747.9" fill="none" stroke="#2ca02c" stroke-width="14.8" stroke-dasharray="12.25 10.90" stroke-dashoffset="17.65" stroke-linejoin="round"/>
<path d="M851.0,747.9 853.0,748.9 855.0,749.8 857.1,750.6 859.1,751.2 861.3,751.6 863.5,751.8 865.7,751.8 868.0,751.5 869.9,751.0 871.9,750.2 873.9,749.3 876.0,748.2 878.2,747.2 880.3,746.3 882.3,745.5 884.4,744.9 886.6,744.4 888.7,744.0 890.8,743.6 892.9,743.3 895.0,742.8 897.2,742.4 899.4,742.0 901.6,741.6 903.7,741.1 905.7,740.4 907.4,739.5 909.1,738.0 910.5,736.1 911.7,734.0 913.0,732.0 914.3,730.2 915.5,728.2 916.8,726.2 918.1,724.3 919.5,722.5 920.9,720.8 922.4,719.2 923.9,717.7 925.5,716.2 927.0,714.8 928.7,713.3 930.5,711.9 932.2,710.6 934.0,709.5 936.2,708.5 938.3,707.8 940.6,707.3 943.0,707.0 945.5,706.9 948.0,707.0 950.3,707.2 952.6,707.5 955.0,708.0 957.0,708.5 959.2,709.1 961.4,709.8 963.6,710.6 965.8,711.3 967.9,712.0 969.9,712.7 972.0,713.4 974.0,714.2 976.0,715.0" fill="none" stroke="#2ca02c" stroke-width="14.8" stroke-dasharray="12.64 11.25" stroke-dashoffset="18.21" stroke-linejoin="round"/>
<path d="M976.0,715.0 978.1,715.9 980.2,716.9 982.3,717.9 984.4,719.1 986.3,720.4 988.1,721.9 989.8,723.6 991.4,725.4 993.0,727.2 994.5,729.0 995.9,730.9 997.1,732.9 998.4,734.9 999.8,736.7 1001.4,738.2 1003.4,739.2 1005.7,740.0 1008.1,740.4 1010.5,740.8 1013.0,741.2 1015.1,741.5 1017.3,741.6 1019.5,741.8 1021.7,741.9 1023.9,742.0 1026.1,742.3 1028.3,742.7 1030.4,743.2 1032.6,743.8 1034.7,744.4 1036.9,745.0" fill="none" stroke="#2ca02c" stroke-width="14.8" stroke-dasharray="12.61 11.22" stroke-dashoffset="18.17" stroke-linejoin="round"/>
<path d="M1036.9,745.0 1039.0,745.5 1041.0,746.0 1043.1,746.6 1045.1,747.2 1047.1,747.7 1049.1,748.0 1051.0,748.0 1053.2,747.5 1055.4,746.6 1057.6,745.5 1059.7,744.4 1062.0,743.5 1064.0,742.8 1066.1,742.2 1068.1,741.5 1070.3,741.0 1072.6,740.5 1075.0,740.0 1076.8,739.7 1078.7,739.5 1080.7,739.3 1082.8,739.2 1085.0,739.1 1087.1,739.0 1089.4,738.9 1091.6,738.8 1093.7,738.8 1095.9,738.7 1098.0,738.6 1100.0,738.5 1102.1,738.4 1104.1,738.2 1106.2,738.1 1108.2,737.9 1110.1,737.7 1112.1,737.6 1114.1,737.5 1116.0,737.4 1118.0,737.4 1120.0,737.5 1122.0,737.7 1124.0,737.9 1125.9,738.2 1127.9,738.6 1129.9,739.0 1131.8,739.3 1133.8,739.7 1135.9,740.0 1137.9,740.3 1140.0,740.5 1142.0,740.6 1144.0,740.6 1146.0,740.6 1148.1,740.5 1150.2,740.4 1152.3,740.3 1154.4,740.1 1156.6,740.0 1158.7,739.9 1160.8,739.9 1162.9,739.9 1165.0,740.0 1167.1,740.2 1169.2,740.4 1171.3,740.7 1173.4,741.1 1175.6,741.4 1177.7,741.8 1179.8,742.2 1181.9,742.5 1183.9,742.9 1186.0,743.2 1188.0,743.4 1190.0,743.5 1192.1,743.6 1194.1,743.5 1196.2,743.4 1198.2,743.3 1200.1,743.2 1202.1,743.0 1204.1,742.8 1206.0,742.7 1208.0,742.6 1210.0,742.5 1212.0,742.5 1214.0,742.5 1215.9,742.5 1217.9,742.6 1219.9,742.7 1221.8,742.7 1223.8,742.8 1225.9,742.8 1227.9,742.8 1230.0,742.8 1232.0,742.7 1234.0,742.7 1236.1,742.6 1238.2,742.4 1240.3,742.3 1242.4,742.2 1244.5,742.0 1246.7,741.9 1248.8,741.8 1250.9,741.7 1253.0,741.6 1255.0,741.5 1257.1,741.4 1259.1,741.4 1261.2,741.3 1263.2,741.3 1265.2,741.3 1267.2,741.3 1269.2,741.3 1271.2,741.3 1273.2,741.3 1275.2,741.4 1277.2,741.5 1279.3,741.6 1281.3,741.8 1283.5,741.9 1285.6,742.1 1287.7,742.3 1289.8,742.5 1291.9,742.8 1293.9,743.1 1295.8,743.3 1297.7,743.7 1299.4,744.0 1301.9,744.6 1304.1,745.3 1306.3,746.1 1308.3,746.8 1310.5,747.5" fill="none" stroke="#2ca02c" stroke-width="14.8" stroke-dasharray="12.21 10.86" stroke-dashoffset="17.59" stroke-linejoin="round"/>
<path d="M1310.5,747.5 1312.7,748.1 1314.8,748.7 1316.9,749.3 1319.1,749.8 1321.3,750.2 1323.6,750.5 1326.0,750.6 1328.3,750.7 1330.7,750.6 1333.0,750.5 1335.3,750.3 1337.6,750.1 1339.9,749.8 1342.1,749.3 1344.1,748.4 1345.9,747.1 1347.5,745.5 1349.0,743.7 1350.5,741.8 1352.0,740.0 1353.3,738.5 1354.5,736.9 1355.8,735.3 1357.0,733.8 1358.3,732.2 1359.7,730.7 1361.2,729.2 1362.6,727.7 1364.2,726.2 1365.7,724.7 1367.3,723.3 1369.0,722.0 1370.8,720.7 1372.6,719.5 1374.4,718.3 1376.3,717.2 1378.2,716.0 1380.0,714.8 1381.7,713.6 1383.5,712.3 1385.3,711.0 1386.9,709.7 1388.5,708.6 1390.0,707.5 1391.8,706.2 1393.4,704.9 1395.0,704.0 1397.1,703.2 1399.2,702.8 1401.5,703.1 1404.0,703.8 1405.9,704.5 1407.9,705.4 1410.0,706.4" fill="none" stroke="#2ca02c" stroke-width="14.8" stroke-dasharray="12.51 11.13" stroke-dashoffset="18.02" stroke-linejoin="round"/>
<path d="M1410.0,706.4 1412.0,707.5 1413.9,708.6 1415.9,709.9 1417.7,711.1 1419.4,712.2 1421.5,713.6 1423.5,715.0" fill="none" stroke="#2ca02c" stroke-width="14.8" stroke-dasharray="12.70 11.30" stroke-dashoffset="18.30" stroke-linejoin="round"/>
<path d="M239.6,713.5 239.6,715.5 239.6,717.6 239.6,719.6 239.7,721.7 239.7,723.7 239.7,725.8 239.7,727.8 239.7,729.9 239.7,731.9 239.7,734.0 239.8,736.0 239.8,738.0 239.8,740.0 239.8,742.1 239.9,744.2 239.9,746.3 239.9,748.4 239.9,750.5 240.0,752.5 240.0,754.6 240.0,756.7 240.1,758.7 240.1,760.7 240.2,762.7 240.3,764.6 240.4,766.9 240.5,769.1 240.7,771.2 240.8,773.4 241.0,775.5 241.2,777.6 241.4,779.8 241.6,781.9 241.8,784.0 242.0,786.1 242.3,788.3 242.5,790.5 242.8,792.6 243.0,794.8 243.3,796.9 243.6,799.0 243.9,801.0 244.2,803.0 244.6,805.1 244.9,807.2 245.3,809.2 245.7,811.2 246.1,813.2 246.5,815.1 247.0,817.0 247.5,819.0 248.1,821.1 248.6,823.1 249.2,825.0 249.8,826.8 250.5,828.5 251.6,830.9 252.7,833.2 254.0,835.0 256.1,836.9 258.4,838.0 260.7,837.7 263.0,836.5 264.8,835.0 266.5,833.1 268.0,831.0 269.2,829.0 270.2,826.7 271.1,824.4 272.0,822.0 272.8,819.7 273.5,817.3 274.1,814.9 274.7,812.4 275.1,810.4 275.5,808.4 275.8,806.3 276.1,804.2 276.5,802.1 276.8,800.0 277.1,798.0 277.5,796.0 277.8,794.0 278.1,792.0 278.5,790.0 278.8,788.0 279.2,785.9 279.5,783.7 279.9,781.5 280.3,779.3 280.8,777.1 281.2,775.0 281.7,773.0 282.1,771.0 282.6,769.0 283.1,767.1 283.6,765.1 284.2,763.0 284.8,760.9 285.3,758.8 285.9,756.7 286.5,754.6 287.2,752.4 287.8,750.2 288.5,748.0 289.2,745.9 289.9,743.8 290.6,741.7 291.3,739.5 292.1,737.4 292.8,735.4 293.6,733.4 294.3,731.5 295.2,729.2 296.1,727.0 297.1,725.0 298.0,722.9 299.0,721.0 300.2,718.9 301.4,716.8 302.7,714.8 304.0,713.0 305.5,711.0 307.1,709.2 308.8,707.5 310.6,706.0 312.5,704.6 314.5,703.5 316.6,702.6 318.8,702.0 321.0,701.5 323.4,701.2 325.8,701.0 328.2,701.0 330.8,701.1 333.4,701.3 336.0,701.8 338.6,702.5 341.1,703.4 343.4,704.5 345.4,705.7 347.2,707.0 349.0,708.5 350.5,710.0 352.0,711.6 353.5,713.3 354.9,715.0 356.6,717.1 358.2,719.1 360.0,721.0 362.0,722.6 364.2,724.0 366.4,725.0 369.2,725.8 372.0,726.0 374.9,725.5 377.8,724.5 379.6,723.6 381.4,722.4 383.2,721.2 385.0,720.0 387.0,718.7 389.0,717.4 391.1,716.1 393.1,715.0 395.4,713.9 397.7,713.0 400.0,712.0 402.2,711.0 404.4,710.0 406.5,709.0 408.8,707.6 411.0,706.0 412.7,704.7 414.3,703.2 416.0,701.6 417.4,700.1 418.9,698.6 420.4,697.0 422.0,695.5 423.9,694.0 425.8,692.5 427.9,691.1 430.0,690.0 432.0,689.2 434.1,688.6 436.1,688.2 438.2,688.0 440.8,688.1 443.4,688.7 446.0,689.5 448.1,690.5 450.2,691.7 452.3,693.0 454.3,694.5 455.9,695.8 457.5,697.3 459.0,698.8 460.5,700.4 462.0,702.0 463.4,703.6 464.9,705.3 466.4,707.0 467.8,708.8 469.1,710.6 470.4,712.3 471.6,714.1 472.8,715.9 473.8,717.8 474.9,719.6 476.0,721.5 477.0,723.2 478.1,725.0 479.2,726.7 480.2,728.6 481.3,730.4 482.4,732.4 483.3,734.1 484.2,735.8 485.1,737.7 486.1,739.5 487.0,741.4 487.9,743.3 488.8,745.1 489.7,746.9 490.5,748.5 491.6,750.7 492.6,752.7 493.6,754.6 494.5,756.6 495.5,758.5 496.5,760.5 497.5,762.4 498.5,764.4 499.5,766.2 500.5,768.0 501.9,770.4 503.4,772.5 505.0,774.5 506.8,776.1 508.7,777.5 510.6,778.7 513.2,779.8 516.0,780.5 518.1,780.8 520.4,780.9 522.7,781.0 524.7,781.0 526.8,781.0 528.9,780.9 531.0,780.8 533.4,780.6 536.0,780.4 538.4,780.1 540.8,779.7 543.3,779.1 545.7,778.4 548.0,777.5 550.4,776.4 552.7,775.1 554.9,773.5 556.5,772.1 558.0,770.4 559.5,768.7 561.0,767.0 562.5,765.1 564.0,763.2 565.5,761.3 567.0,759.5 568.7,757.7 570.3,756.0 572.0,754.5 574.4,752.8 577.0,751.5 579.2,750.8 581.6,750.4 584.0,750.0 586.0,749.7 588.0,749.4 590.0,749.0 592.3,748.2 594.7,747.1 597.0,746.0 599.4,744.9 601.7,743.8 604.0,742.7 606.0,741.8 608.0,741.0 610.0,740.3 612.0,739.7 614.0,739.1 616.0,738.6 618.0,738.2 620.0,737.9 622.0,737.7 624.3,737.5 626.6,737.4 629.0,737.4 631.3,737.4 633.7,737.5 636.0,737.8 638.3,738.3 640.6,738.9 643.0,739.5 645.5,740.0 648.0,740.4 650.5,740.6 653.0,740.5 655.5,740.3 658.0,740.0 660.1,739.7 662.3,739.3 664.5,738.9 666.6,738.7 669.1,738.6 671.5,738.6 674.0,738.8 676.1,739.0 678.4,739.4 680.6,739.7 682.7,740.0 685.2,740.3 687.5,740.5 690.0,740.5 692.2,740.4 694.5,740.1 696.8,739.8 698.8,739.3 701.5,738.1 704.0,736.8 706.1,735.7 708.4,734.6 710.8,733.7 713.0,733.2 715.2,732.8 717.6,732.5 720.0,732.3 722.2,732.1 724.4,731.9 726.7,731.8 728.9,731.8 731.0,731.8 733.1,731.9 735.1,732.1 737.0,732.4 739.0,732.6 741.0,732.9 743.0,733.3 745.1,733.5 747.0,733.5 749.4,732.9 751.7,732.0 754.0,731.0 756.3,729.9 758.6,728.8 761.0,728.0 762.9,727.6 764.9,727.5 767.0,727.4 769.0,727.4 771.0,727.4 773.0,727.4 775.1,727.5 777.0,727.8 779.4,728.6 781.7,729.6 784.0,730.5 786.3,731.4 788.6,732.3 791.0,732.5 793.0,732.0 795.0,730.9 797.0,729.7 799.0,728.5 801.1,727.3 803.1,726.1 805.2,724.9 807.4,724.0 809.7,723.3 812.1,722.9 814.5,722.5 817.0,722.2 819.1,722.0 821.3,721.9 823.5,721.8 825.6,721.7 827.5,721.5 829.8,721.1 831.9,720.6 834.0,720.0 835.9,719.2 837.8,718.3 839.6,717.2 841.2,715.9 842.9,714.3 844.4,712.7 846.0,711.0 847.5,709.2 849.0,707.3 850.4,705.4 852.0,703.7 853.7,702.2 855.4,700.9 857.2,699.7 859.0,698.5 860.8,697.4 862.6,696.4 864.4,695.4 866.2,694.6 868.4,693.7 870.7,692.9 873.0,692.3 875.4,691.9 877.8,691.7 880.2,691.6 882.8,691.5 885.4,691.4 888.0,691.4 890.1,691.4 892.2,691.4 894.3,691.5 896.3,691.6 898.6,691.8 900.9,692.1 903.0,692.5 905.8,693.3 908.4,694.5 910.1,695.9 911.6,697.6 913.0,699.5 914.1,701.2 915.1,703.0 916.0,704.9 917.0,707.0 917.8,708.8 918.5,710.6 919.3,712.6 920.0,714.6 920.8,716.6 921.5,718.5 922.2,720.4 923.0,722.4 923.7,724.3 924.5,726.2 925.2,728.1 926.0,730.0 926.9,732.1 927.7,734.2 928.6,736.3 929.5,738.4 930.5,740.5 931.5,742.4 932.5,744.2 933.6,746.1 934.7,747.9 935.9,749.7 937.0,751.5 938.3,753.4 939.6,755.3 940.9,757.1 942.3,758.9 943.6,760.6 945.2,762.5 946.8,764.4 948.4,766.2 950.0,768.0 951.7,769.7 953.3,771.4 955.0,773.0 956.7,774.5 958.6,776.3 960.5,778.0 962.5,779.5 964.5,780.8 966.7,781.9 968.8,782.8 970.9,783.5 972.9,784.2 975.0,784.6 977.9,785.0 980.8,785.0 982.9,784.8 985.0,784.4 987.0,783.8 989.1,783.0 991.1,781.9 992.9,780.7 994.4,779.3 995.7,777.7 997.0,776.0 998.3,774.2 999.6,772.4 1001.0,770.7 1002.9,768.9 1004.9,767.1 1007.0,765.5 1008.9,764.1 1010.9,762.8 1013.0,761.6 1015.3,760.6 1017.6,759.8 1020.0,759.0 1022.4,758.2 1024.8,757.5 1027.1,756.6 1029.1,755.5 1031.1,754.1 1033.0,752.8 1035.1,751.4 1037.1,749.9 1039.2,748.5 1041.1,747.3 1043.0,746.1 1045.0,745.0 1047.1,744.1 1049.2,743.2 1051.3,742.5 1054.1,741.6 1057.0,741.0 1059.1,740.8 1061.2,740.7 1063.3,740.5 1065.5,740.2 1067.7,739.8 1070.0,739.4 1072.5,738.8 1075.0,738.2 1077.4,737.5 1079.3,736.8 1081.1,736.0 1083.0,735.3 1085.1,734.6 1087.3,734.0 1089.5,733.6 1092.2,733.6 1095.0,734.0 1097.1,734.4 1099.3,735.0 1101.6,735.5 1103.6,735.9 1105.8,736.3 1107.9,736.7 1110.0,737.0 1112.6,737.3 1115.2,737.4 1117.7,737.5 1119.9,737.4 1121.9,737.2 1124.0,737.0 1126.0,736.7 1127.9,736.4 1130.0,736.1 1131.9,735.8 1133.9,735.6 1136.0,735.4 1138.0,735.2 1140.1,735.1 1142.3,735.0 1144.5,734.9 1146.6,735.0 1148.7,735.2 1150.8,735.4 1152.9,735.7 1155.0,736.0 1157.1,736.3 1159.2,736.6 1161.2,736.9 1163.3,737.0 1165.9,736.8 1168.4,736.5 1171.0,736.0 1173.2,735.6 1175.5,735.1 1177.8,734.6 1179.9,734.0 1182.0,733.2 1184.0,732.3 1186.0,731.5 1188.1,730.9 1190.2,730.4 1192.4,730.0 1194.9,729.8 1197.4,729.8 1200.0,729.8 1202.2,729.8 1204.6,729.8 1206.9,729.9 1209.0,729.9 1211.1,729.9 1213.0,730.0 1215.0,730.0 1217.2,730.0 1219.3,729.9 1221.5,729.6 1223.7,728.9 1225.9,727.9 1228.0,727.0 1230.0,726.2 1232.0,725.4 1234.0,724.8 1236.0,724.4 1238.0,724.0 1240.0,723.8 1242.1,723.6 1244.2,723.6 1246.4,723.6 1248.9,723.8 1251.4,724.2 1254.0,724.6 1256.2,725.1 1258.6,725.7 1260.9,726.2 1263.0,726.4 1265.1,726.1 1267.1,725.4 1269.0,724.5 1271.2,723.3 1273.4,721.9 1275.5,720.5 1277.3,719.3 1279.1,718.1 1281.0,717.0 1283.2,715.9 1285.6,714.9 1288.0,714.0 1289.9,713.5 1291.9,713.1 1294.0,712.7 1296.0,712.3 1298.2,711.8 1300.4,711.3 1302.6,710.7 1304.6,710.0 1306.9,709.0 1309.0,707.9 1311.0,706.5 1312.6,705.2 1314.1,703.8 1315.6,702.2 1317.1,700.7 1318.6,699.1 1320.0,697.3 1321.5,695.6 1323.0,694.0 1324.6,692.5 1326.2,691.0 1327.9,689.6 1329.6,688.3 1331.5,687.0 1333.5,685.9 1335.5,685.0 1337.6,684.4 1339.8,684.1 1342.0,684.1 1344.2,684.4 1346.4,685.1 1348.5,686.0 1350.6,687.2 1352.5,688.7 1354.5,690.4 1356.2,691.9 1357.8,693.5 1359.4,695.2 1361.0,697.0 1362.5,698.9 1364.0,700.8 1365.5,702.7 1367.0,704.7 1368.4,706.3 1369.8,708.0 1371.2,709.6 1372.6,711.3 1374.0,713.0 1375.5,714.8 1376.9,716.7 1378.4,718.6 1379.7,720.5 1381.0,722.4 1382.1,724.3 1383.1,726.2 1384.0,728.1 1384.9,730.0 1385.8,732.0 1386.6,733.8 1387.3,735.7 1388.1,737.6 1388.8,739.5 1389.5,741.3 1390.3,743.2 1391.3,745.4 1392.3,747.6 1393.3,749.7 1394.3,751.9 1395.3,754.0 1396.3,756.1 1397.3,758.1 1398.3,760.2 1399.3,762.2 1400.3,764.0 1401.5,766.3 1402.7,768.5 1404.0,770.5 1405.3,772.3 1406.6,774.0 1408.0,775.5 1410.0,777.3 1412.0,778.8 1414.0,779.8 1416.0,780.5 1418.0,780.9 1420.0,781.0 1422.2,781.0 1424.5,781.0" fill="none" stroke="#ff0000" stroke-width="15" stroke-linejoin="round"/>
<circle cx="239.6" cy="713.5" r="7.5" fill="#ff0000"/>
<path d="M239.8,731.0 240.4,733.1 241.0,735.2 241.7,737.2 242.3,739.3 242.9,741.4 243.5,743.5 244.1,745.6 244.7,747.7 245.3,749.8 245.8,751.9 246.4,753.9 247.0,756.0 247.6,757.9 248.2,759.9 248.7,761.8 249.3,763.7 249.9,765.6 250.5,767.5 251.1,769.5 251.7,771.5 252.2,773.5 252.8,775.4 253.4,777.3 254.0,779.0 254.9,781.3 255.9,783.4 256.8,785.5 257.7,787.5 258.5,789.4 259.4,791.4 260.4,793.7 261.5,796.1 262.5,798.5 263.5,800.8 264.5,803.0 265.5,805.0 266.7,807.2 268.0,809.0 269.2,810.3 270.5,811.2 272.0,811.8 273.5,812.0 275.3,811.7 277.0,811.0" fill="none" stroke="#000000" stroke-width="15" stroke-dasharray="50.46 11.37 25.85 11.37" stroke-dashoffset="0.00" stroke-linejoin="round"/>
<path d="M277.0,811.0 278.6,809.9 280.0,808.5 281.2,806.9 282.3,805.0 283.2,803.5 284.1,801.8 285.1,799.9 286.0,797.9 287.0,796.0 287.8,794.2 288.7,792.4 289.5,790.6 290.3,788.7 291.2,786.8 292.0,785.0 292.8,783.2 293.7,781.3 294.5,779.5 295.3,777.7 296.2,775.8 297.0,774.0 297.8,772.2 298.6,770.3 299.4,768.5 300.2,766.6 301.0,764.8 301.8,763.0 302.8,760.9 303.9,758.8 304.9,756.7 306.0,754.6 307.0,752.5 307.8,750.7 308.7,748.9 309.5,747.0 310.3,745.2 311.1,743.3 312.0,741.5 312.9,739.6 313.9,737.7 314.8,735.8 315.8,733.9 316.7,732.1 317.6,730.5 318.8,728.3 319.9,726.4 321.0,724.5" fill="none" stroke="#000000" stroke-width="15" stroke-dasharray="49.67 11.20 25.44 11.20" stroke-dashoffset="91.90" stroke-linejoin="round"/>
<path d="M321.0,724.5 322.6,722.1 324.3,720.0 326.1,718.1 328.0,716.5 330.4,715.0 333.0,713.8 335.5,712.8 338.0,712.0 340.5,711.5 343.0,711.2 345.0,711.1 347.0,711.1 349.0,711.2 351.0,711.4 353.0,711.6 355.0,712.0 357.3,712.5 359.6,713.2 362.0,714.0 364.0,714.7 366.1,715.5 368.1,716.4 370.0,717.2 372.6,718.6 375.0,719.8 377.0,720.5 379.0,721.0 380.9,721.2 382.9,721.1 385.0,721.0 387.3,720.7 389.7,720.2 392.0,719.8 394.0,719.5 396.0,719.2 398.0,718.8 400.5,718.4 403.0,717.8 405.5,717.2 407.7,716.4 409.9,715.5 412.0,714.5 414.0,713.5" fill="none" stroke="#000000" stroke-width="15" stroke-dasharray="51.30 11.56 26.28 11.56" stroke-dashoffset="94.93" stroke-linejoin="round"/>
<path d="M414.0,713.5 415.9,712.5 418.0,711.5 420.1,710.6 422.3,709.8 424.7,708.9 427.0,708.0 429.0,707.2 431.0,706.4 433.0,705.6 435.0,704.8 437.0,704.0 439.0,703.2 441.0,702.4 443.0,701.7 445.0,700.9 447.0,700.2 449.4,699.4 451.7,698.6 454.0,697.9 456.0,697.3 458.1,696.8 460.0,696.6 462.0,696.7 464.0,697.0 466.0,697.6 468.0,698.5 470.1,699.7 472.4,701.2 474.2,702.3 476.2,703.6 478.2,704.9 480.0,706.2 481.8,707.5 483.5,708.7 485.0,710.0 486.8,711.7 488.5,713.5 489.9,715.2 491.2,717.0 492.5,719.0 493.5,720.7" fill="none" stroke="#000000" stroke-width="15" stroke-dasharray="46.72 10.53 23.93 10.53" stroke-dashoffset="86.45" stroke-linejoin="round"/>
<path d="M493.5,720.7 494.4,722.6 495.4,724.5 496.5,726.4 497.7,728.2 498.9,730.0 500.3,731.8 501.6,733.7 503.0,735.5 504.4,737.4 505.8,739.3 507.2,741.2 508.6,743.1 510.0,745.0 511.2,746.6 512.3,748.3 513.5,749.9 514.6,751.6 515.8,753.2 517.0,754.8 518.3,756.5 519.6,758.2 521.0,759.9 522.3,761.5 523.6,763.0 524.7,764.2 526.4,765.9 528.0,767.2 529.4,768.3 531.0,769.3 532.8,770.2 534.9,771.0 536.8,771.8 538.9,772.6 541.0,773.2 543.5,773.8 546.0,774.2 548.5,774.6 551.0,774.8 554.0,774.8 556.9,774.6 559.0,774.1 561.0,773.5 562.5,773.0 564.0,772.4 565.7,771.7" fill="none" stroke="#000000" stroke-width="15" stroke-dasharray="49.85 11.24 25.54 11.24" stroke-dashoffset="92.24" stroke-linejoin="round"/>
<path d="M565.7,771.7 567.5,771.0 569.1,770.3 571.0,769.5 572.7,768.8 574.6,768.0 576.7,767.1 578.9,766.2 581.0,765.4 583.2,764.6 585.3,763.7 587.5,762.9 589.8,762.1 592.0,761.3 594.0,760.6 596.0,759.9 598.0,759.3 600.0,758.6 602.0,757.9 604.0,757.2 606.1,756.5 608.3,755.8 610.6,755.0 612.7,754.3 614.6,753.6 616.3,752.8 618.6,751.3 620.5,749.8 622.3,748.5 624.3,747.3 627.0,746.3 630.0,745.5 632.0,745.1 634.0,744.7 636.0,744.3 638.0,743.9 640.0,743.5 642.0,743.2 644.7,742.8 647.5,742.5 649.6,742.4 651.8,742.3 654.0,742.2" fill="none" stroke="#000000" stroke-width="15" stroke-dasharray="47.90 10.80 24.54 10.80" stroke-dashoffset="88.63" stroke-linejoin="round"/>
<path d="M654.0,742.2 656.1,742.2 658.2,742.1 660.5,742.1 662.6,742.1 664.8,742.0 667.2,741.9 669.6,741.9 672.0,741.8 674.1,741.7 676.3,741.7 678.5,741.6 680.7,741.5 682.9,741.5 685.0,741.4 687.3,741.3 689.5,741.3 691.7,741.2 693.8,741.1 696.0,741.0 698.2,740.9 700.5,740.7 702.7,740.5 704.8,740.3 706.8,740.1 709.2,739.7 711.3,739.3 713.5,738.8 715.6,738.3 717.7,737.8 720.0,737.3 722.0,736.9 724.2,736.5 726.4,736.0 728.7,735.6 731.0,735.2 733.0,734.9 735.1,734.5 737.2,734.2 739.2,733.9 741.2,733.7 743.0,733.5 745.3,733.4 747.4,733.3 749.5,733.3" fill="none" stroke="#000000" stroke-width="15" stroke-dasharray="49.00 11.05 25.10 11.05" stroke-dashoffset="90.67" stroke-linejoin="round"/>
<path d="M749.5,733.3 751.6,733.3 753.7,733.2 756.0,733.2 757.8,733.1 759.7,733.1 761.8,733.0 763.9,732.9 766.0,732.9 768.0,732.8 770.0,732.7 772.0,732.7 774.0,732.6 776.0,732.6 778.0,732.5 780.0,732.5 782.2,732.5 784.4,732.5 786.6,732.5 788.8,732.4 791.0,732.4 793.3,732.4 795.7,732.4 798.1,732.4 800.4,732.3 802.4,732.0 805.3,731.1 808.0,730.0 810.6,729.1 813.5,728.2 815.3,727.8 817.3,727.4 819.4,727.1 821.6,726.7 823.9,726.4 826.0,726.0 828.2,725.6 830.4,725.3 832.6,724.9 834.8,724.6 836.8,724.2 838.6,723.8 841.4,723.0 844.0,722.2" fill="none" stroke="#000000" stroke-width="15" stroke-dasharray="48.81 11.00 25.00 11.00" stroke-dashoffset="90.31" stroke-linejoin="round"/>
<path d="M844.0,722.2 845.8,721.6 847.7,721.0 849.7,720.2 851.3,719.3 852.9,718.3 854.7,717.1 856.5,715.9 858.3,714.6 860.0,713.5 862.0,712.2 864.0,710.9 866.0,709.6 868.0,708.4 870.0,707.3 872.0,706.3 874.0,705.4 876.0,704.6 878.0,703.8 880.0,703.0 882.1,702.2 884.2,701.4 886.3,700.6 888.4,699.9 890.3,699.2 892.6,698.3 894.8,697.5 897.0,696.8 899.1,696.3 901.3,695.9 903.4,695.6 905.6,695.4 907.8,695.3 910.0,695.3 912.4,695.5 914.7,695.8 917.0,696.2 919.8,696.9 922.5,697.8 925.1,699.2 927.5,701.0 928.8,702.5 929.9,704.2 931.0,706.0 932.2,708.0" fill="none" stroke="#000000" stroke-width="15" stroke-dasharray="50.65 11.42 25.95 11.42" stroke-dashoffset="93.72" stroke-linejoin="round"/>
<path d="M932.2,708.0 933.3,710.1 934.6,712.3 935.8,714.0 937.2,715.8 938.7,717.6 940.2,719.5 941.6,721.3 943.0,723.1 944.4,724.9 945.8,726.8 947.2,728.6 948.6,730.4 950.0,732.2 951.4,734.0 952.9,735.8 954.3,737.6 955.7,739.4 957.1,741.3 958.6,743.2 960.0,745.1 961.4,746.9 962.7,748.5 964.1,750.3 965.5,751.9 966.8,753.5 968.1,755.2 969.4,756.9 970.8,758.6 972.2,760.1 973.6,761.6 975.0,763.0 976.5,764.5 978.0,765.9 979.5,767.3 981.8,769.3 984.0,771.2 985.9,772.8 987.9,774.2 989.9,775.3 992.0,776.2 994.0,776.7 996.0,776.8 998.0,776.5 1000.0,775.8" fill="none" stroke="#000000" stroke-width="15" stroke-dasharray="50.77 11.44 26.01 11.44" stroke-dashoffset="93.95" stroke-linejoin="round"/>
<path d="M1000.0,775.8 1001.9,774.8 1004.0,773.7 1005.8,773.1 1008.0,772.6 1010.3,772.1 1012.7,771.5 1015.0,771.0 1017.2,770.4 1019.4,769.9 1021.6,769.3 1023.8,768.8 1026.0,768.2 1028.1,767.6 1030.2,767.1 1032.3,766.5 1034.4,766.0 1036.5,765.4 1038.7,764.9 1041.0,764.4 1043.2,763.9 1045.3,763.3 1047.2,762.6 1049.3,761.3 1051.2,759.7 1053.0,758.2 1054.8,756.7 1056.5,755.1 1058.3,753.8 1060.1,753.0 1062.1,752.3 1064.0,751.8 1066.7,751.0 1069.5,750.4 1072.3,749.9 1075.0,749.4 1077.7,748.9 1080.4,748.5 1083.2,748.0 1086.0,747.5" fill="none" stroke="#000000" stroke-width="15" stroke-dasharray="46.78 10.54 23.96 10.54" stroke-dashoffset="86.56" stroke-linejoin="round"/>
<path d="M1086.0,747.5 1088.6,747.0 1091.5,746.5 1093.2,746.2 1095.2,745.9 1097.2,745.6 1099.3,745.3 1101.4,745.0 1103.5,744.7 1105.5,744.4 1107.5,744.1 1109.5,743.8 1111.5,743.6 1113.5,743.3 1115.5,743.0 1117.6,742.7 1119.7,742.4 1121.7,742.1 1123.8,741.8 1125.9,741.5 1128.0,741.2 1130.1,740.9 1132.2,740.7 1134.2,740.4 1136.3,740.2 1138.2,739.9 1140.0,739.7 1142.3,739.3 1144.4,739.0 1146.5,738.7 1148.6,738.5 1150.6,738.3 1152.9,738.2 1154.9,738.1 1157.1,738.1 1159.3,738.0 1161.6,738.0 1163.8,738.0 1166.0,738.0 1168.3,738.0 1170.6,738.0 1172.7,738.0 1174.7,738.0 1177.7,737.8 1180.5,737.6" fill="none" stroke="#000000" stroke-width="15" stroke-dasharray="48.49 10.93 24.84 10.93" stroke-dashoffset="89.73" stroke-linejoin="round"/>
<path d="M1180.5,737.6 1183.1,737.3 1186.0,737.0 1187.7,736.8 1189.7,736.5 1191.7,736.2 1193.8,735.9 1195.9,735.6 1198.0,735.3 1200.0,735.0 1202.0,734.8 1204.0,734.5 1206.0,734.3 1208.0,734.0 1210.0,733.8 1212.3,733.5 1214.6,733.2 1216.9,732.9 1219.2,732.6 1221.5,732.3 1223.8,732.0 1226.2,731.7 1228.6,731.3 1230.9,731.0 1233.0,730.7 1235.5,730.3 1237.8,729.9 1240.0,729.5 1242.1,729.2 1244.1,728.9 1246.4,728.7 1248.5,728.6 1250.8,728.5 1253.2,728.5 1255.6,728.5 1258.0,728.5 1260.3,728.5 1262.7,728.5 1265.0,728.6 1267.2,728.6 1269.3,728.5 1271.7,728.3 1273.8,728.1 1276.0,727.8 1278.2,727.5" fill="none" stroke="#000000" stroke-width="15" stroke-dasharray="50.12 11.30 25.67 11.30" stroke-dashoffset="92.73" stroke-linejoin="round"/>
<path d="M1278.2,727.5 1280.4,727.1 1282.8,726.5 1284.9,725.9 1287.1,725.1 1289.4,724.2 1291.7,723.3 1294.0,722.5 1296.2,721.7 1298.4,720.9 1300.6,720.2 1302.8,719.4 1305.0,718.6 1307.2,717.8 1309.4,717.0 1311.6,716.2 1313.8,715.3 1316.0,714.5 1318.0,713.8 1320.1,713.1 1322.2,712.4 1324.2,711.6 1326.0,710.8 1327.5,709.9 1329.5,707.8 1331.0,705.5 1332.8,703.1 1334.8,701.0 1337.3,699.5 1340.0,698.3 1342.5,697.2 1345.0,696.2 1347.5,695.3 1350.0,694.5 1352.8,693.8 1355.6,693.4 1357.8,693.2 1360.0,693.2 1362.0,693.6 1364.0,694.2 1365.8,694.8" fill="none" stroke="#000000" stroke-width="15" stroke-dasharray="49.26 11.10 25.24 11.10" stroke-dashoffset="91.16" stroke-linejoin="round"/>
<path d="M1365.8,694.8 1367.5,695.5 1369.3,696.4 1371.2,697.6 1372.7,698.7 1374.5,700.1 1376.4,701.6 1378.2,703.1 1380.0,704.6 1381.6,706.0 1383.2,707.3 1384.8,708.7 1386.4,710.1 1388.0,711.5 1389.6,712.9 1391.3,714.4 1392.9,715.8 1394.5,717.3 1396.0,718.8 1397.7,720.7 1399.2,722.6 1400.7,724.5 1402.0,726.5 1403.3,728.8 1404.4,731.1 1405.5,733.5 1406.2,735.5 1406.9,737.5 1407.6,739.6 1408.5,741.5 1409.6,743.2 1410.9,744.8 1412.2,746.4 1413.5,748.0 1414.8,749.6 1416.0,751.2 1417.2,752.9 1418.5,754.5 1419.8,756.1 1421.0,757.8 1422.2,759.4 1423.5,761.0" fill="none" stroke="#000000" stroke-width="15" stroke-dasharray="48.80 11.00 25.00 11.00" stroke-dashoffset="90.30" stroke-linejoin="round"/>
<rect x="739" y="575" width="687" height="100.79999999999995" fill="#ffffff"/>
<rect x="739" y="575" width="4.5" height="100.79999999999995" fill="#262626"/>
<rect x="739" y="671" width="687" height="4.7999999999999545" fill="#262626"/>
<rect x="739" y="575" width="687" height="5" fill="#262626"/>
<rect x="1421" y="575" width="5" height="100.79999999999995" fill="#262626"/>
<line x1="761" y1="621.0" x2="912" y2="621.0" stroke="#ff0000" stroke-width="14.6"/>
<line x1="983" y1="621.0" x2="1134" y2="621.0" stroke="#000" stroke-width="14.7" stroke-dasharray="48.8 11 25 11"/>
<line x1="1205" y1="621.0" x2="1356" y2="621.0" stroke="#2ca02c" stroke-width="14.8" stroke-dasharray="12.7 11.3"/>
<text transform="matrix(0.51212 0 0 0.53944 136.55 82.56)" x="0" y="0" font-family="'Liberation Sans', Arial, Helvetica, sans-serif" font-size="100" fill="#262626" stroke="#ffffff" stroke-width="1.52" stroke-linejoin="round">0.4</text>
<text transform="matrix(0.53750 0 0 0.54648 180.45 242.85)" x="0" y="0" font-family="'Liberation Sans', Arial, Helvetica, sans-serif" font-size="100" fill="#262626" stroke="#ffffff" stroke-width="1.48" stroke-linejoin="round">0</text>
<text transform="matrix(0.52000 0 0 0.54789 120.42 402.75)" x="0" y="0" font-family="'Liberation Sans', Arial, Helvetica, sans-serif" font-size="100" fill="#262626" stroke="#ffffff" stroke-width="1.50" stroke-linejoin="round">-0.4</text>
<text transform="matrix(0.51098 0 0 0.54225 136.61 598.76)" x="0" y="0" font-family="'Liberation Sans', Arial, Helvetica, sans-serif" font-size="100" fill="#262626" stroke="#ffffff" stroke-width="1.52" stroke-linejoin="round">0.4</text>
<text transform="matrix(0.53333 0 0 0.54507 180.57 756.95)" x="0" y="0" font-family="'Liberation Sans', Arial, Helvetica, sans-serif" font-size="100" fill="#262626" stroke="#ffffff" stroke-width="1.48" stroke-linejoin="round">0</text>
<text transform="matrix(0.52061 0 0 0.55493 120.42 913.35)" x="0" y="0" font-family="'Liberation Sans', Arial, Helvetica, sans-serif" font-size="100" fill="#262626" stroke="#ffffff" stroke-width="1.49" stroke-linejoin="round">-0.4</text>
<text transform="matrix(0.53125 0 0 0.54225 220.67 460.66)" x="0" y="0" font-family="'Liberation Sans', Arial, Helvetica, sans-serif" font-size="100" fill="#262626" stroke="#ffffff" stroke-width="1.49" stroke-linejoin="round">0</text>
<text transform="matrix(0.52402 0 0 0.54225 444.08 460.66)" x="0" y="0" font-family="'Liberation Sans', Arial, Helvetica, sans-serif" font-size="100" fill="#262626" stroke="#ffffff" stroke-width="1.50" stroke-linejoin="round">20</text>
<text transform="matrix(0.51810 0 0 0.54225 681.36 460.66)" x="0" y="0" font-family="'Liberation Sans', Arial, Helvetica, sans-serif" font-size="100" fill="#262626" stroke="#ffffff" stroke-width="1.51" stroke-linejoin="round">40</text>
<text transform="matrix(0.53922 0 0 0.54225 917.00 460.66)" x="0" y="0" font-family="'Liberation Sans', Arial, Helvetica, sans-serif" font-size="100" fill="#262626" stroke="#ffffff" stroke-width="1.48" stroke-linejoin="round">60</text>
<text transform="matrix(0.51893 0 0 0.54225 1154.62 460.66)" x="0" y="0" font-family="'Liberation Sans', Arial, Helvetica, sans-serif" font-size="100" fill="#262626" stroke="#ffffff" stroke-width="1.51" stroke-linejoin="round">80</text>
<g clip-path="url(#nofoot0)"><text transform="matrix(0.50194 0 0 0.54225 1380.58 460.66)" x="0" y="0" font-family="'Liberation Sans', Arial, Helvetica, sans-serif" font-size="100" fill="#262626" stroke="#ffffff" stroke-width="1.53" stroke-linejoin="round">100</text></g>
<text transform="matrix(0.53125 0 0 0.55352 220.67 971.45)" x="0" y="0" font-family="'Liberation Sans', Arial, Helvetica, sans-serif" font-size="100" fill="#262626" stroke="#ffffff" stroke-width="1.47" stroke-linejoin="round">0</text>
<text transform="matrix(0.52402 0 0 0.55352 444.08 971.45)" x="0" y="0" font-family="'Liberation Sans', Arial, Helvetica, sans-serif" font-size="100" fill="#262626" stroke="#ffffff" stroke-width="1.48" stroke-linejoin="round">20</text>
<text transform="matrix(0.51810 0 0 0.55352 681.36 971.45)" x="0" y="0" font-family="'Liberation Sans', Arial, Helvetica, sans-serif" font-size="100" fill="#262626" stroke="#ffffff" stroke-width="1.49" stroke-linejoin="round">40</text>
<text transform="matrix(0.53922 0 0 0.55352 917.00 971.45)" x="0" y="0" font-family="'Liberation Sans', Arial, Helvetica, sans-serif" font-size="100" fill="#262626" stroke="#ffffff" stroke-width="1.46" stroke-linejoin="round">60</text>
<text transform="matrix(0.51893 0 0 0.55352 1154.62 971.45)" x="0" y="0" font-family="'Liberation Sans', Arial, Helvetica, sans-serif" font-size="100" fill="#262626" stroke="#ffffff" stroke-width="1.49" stroke-linejoin="round">80</text>
<g clip-path="url(#nofoot1)"><text transform="matrix(0.50194 0 0 0.55352 1380.58 971.45)" x="0" y="0" font-family="'Liberation Sans', Arial, Helvetica, sans-serif" font-size="100" fill="#262626" stroke="#ffffff" stroke-width="1.52" stroke-linejoin="round">100</text></g>
<text transform="matrix(0.53607 0 0 0.56707 794.56 499.83)" x="0" y="0" font-family="'Liberation Serif', 'Times New Roman', serif" font-size="100" fill="#262626" stroke="#ffffff" stroke-width="1.09" stroke-linejoin="round"><tspan font-style="italic">t</tspan>[s]</text>
<text transform="matrix(0.53607 0 0 0.56707 794.56 1026.03)" x="0" y="0" font-family="'Liberation Serif', 'Times New Roman', serif" font-size="100" fill="#262626" stroke="#ffffff" stroke-width="1.09" stroke-linejoin="round"><tspan font-style="italic">t</tspan>[s]</text>
<text transform="matrix(0.52255 0 0 0.51889 704.21 548.40)" x="0" y="0" font-family="'Liberation Serif', 'Times New Roman', serif" font-size="100" fill="#262626" stroke="#ffffff" stroke-width="1.15" stroke-linejoin="round">(a)IMCLOS</text>
<text transform="matrix(0.52506 0 0 0.51778 720.50 1074.33)" x="0" y="0" font-family="'Liberation Serif', 'Times New Roman', serif" font-size="100" fill="#262626" stroke="#ffffff" stroke-width="1.15" stroke-linejoin="round">(b)FPLOS</text>
<text transform="matrix(0.60000 0 0 0.53956 928.00 118.57)" x="0" y="0" font-family="'Liberation Serif', 'Times New Roman', serif" font-size="100" font-style="italic" fill="#000">β</text>
<text transform="matrix(0.60192 0 0 0.53956 1150.10 122.57)" x="0" y="0" font-family="'Liberation Serif', 'Times New Roman', serif" font-size="100" font-style="italic" fill="#000">β</text>
<text transform="matrix(0.48125 0 0 0.61333 1160.32 113.73)" x="0" y="0" font-family="'Liberation Serif', 'Times New Roman', serif" font-size="100" fill="#000">ˆ</text>
<text transform="matrix(0.59808 0 0 0.51648 1372.10 120.95)" x="0" y="0" font-family="'Liberation Serif', 'Times New Roman', serif" font-size="100" font-style="italic" fill="#000">β</text>
<text transform="matrix(0.61613 0 0 0.40000 1382.28 99.60)" x="0" y="0" font-family="'Liberation Serif', 'Times New Roman', serif" font-size="100" fill="#000">˜</text>
<text transform="matrix(0.60000 0 0 0.53956 928.00 632.57)" x="0" y="0" font-family="'Liberation Serif', 'Times New Roman', serif" font-size="100" font-style="italic" fill="#000">β</text>
<text transform="matrix(0.60192 0 0 0.53956 1150.10 636.57)" x="0" y="0" font-family="'Liberation Serif', 'Times New Roman', serif" font-size="100" font-style="italic" fill="#000">β</text>
<text transform="matrix(0.48125 0 0 0.61333 1160.32 627.73)" x="0" y="0" font-family="'Liberation Serif', 'Times New Roman', serif" font-size="100" fill="#000">ˆ</text>
<text transform="matrix(0.59808 0 0 0.51648 1372.10 634.95)" x="0" y="0" font-family="'Liberation Serif', 'Times New Roman', serif" font-size="100" font-style="italic" fill="#000">β</text>
<text transform="matrix(0.61613 0 0 0.40000 1382.28 613.60)" x="0" y="0" font-family="'Liberation Serif', 'Times New Roman', serif" font-size="100" fill="#000">˜</text>
<text transform="matrix(0 -0.61346 0.54615 0 88.93 357.07)" x="0" y="0" font-family="'Liberation Serif', 'Times New Roman', serif" font-size="100" font-style="italic" fill="#262626" stroke="#ffffff" stroke-width="1.72" stroke-linejoin="round">β</text>
<text transform="matrix(0 -0.62667 0.67200 0 89.82 324.71)" x="0" y="0" font-family="'Liberation Serif', 'Times New Roman', serif" font-size="100" fill="#262626">,</text>
<text transform="matrix(0 -0.61346 0.54615 0 88.93 301.07)" x="0" y="0" font-family="'Liberation Serif', 'Times New Roman', serif" font-size="100" font-style="italic" fill="#262626" stroke="#ffffff" stroke-width="1.72" stroke-linejoin="round">β</text>
<text transform="matrix(0 -0.45937 0.60667 0 81.47 288.16)" x="0" y="0" font-family="'Liberation Serif', 'Times New Roman', serif" font-size="100" fill="#262626">ˆ</text>
<text transform="matrix(0 -0.48667 0.67200 0 89.82 266.05)" x="0" y="0" font-family="'Liberation Serif', 'Times New Roman', serif" font-size="100" fill="#262626">,</text>
<text transform="matrix(0 -0.62308 0.54945 0 88.96 243.35)" x="0" y="0" font-family="'Liberation Serif', 'Times New Roman', serif" font-size="100" font-style="italic" fill="#262626" stroke="#ffffff" stroke-width="1.71" stroke-linejoin="round">β</text>
<text transform="matrix(0 -0.61935 0.54615 0 75.39 234.62)" x="0" y="0" font-family="'Liberation Serif', 'Times New Roman', serif" font-size="100" fill="#262626">˜</text>
<text transform="matrix(0 -0.33913 0.65854 0 93.94 208.67)" x="0" y="0" font-family="'Liberation Serif', 'Times New Roman', serif" font-size="100" fill="#262626" stroke="#ffffff" stroke-width="1.60" stroke-linejoin="round">[</text>
<text transform="matrix(0 -0.60560 0.54286 0 89.86 197.61)" x="0" y="0" font-family="'Liberation Serif', 'Times New Roman', serif" font-size="100" fill="#262626" stroke="#ffffff" stroke-width="1.39" stroke-linejoin="round">rad</text>
<text transform="matrix(0 -0.44545 0.65000 0 93.65 121.88)" x="0" y="0" font-family="'Liberation Serif', 'Times New Roman', serif" font-size="100" fill="#262626" stroke="#ffffff" stroke-width="1.46" stroke-linejoin="round">]</text>
<text transform="matrix(0 -0.61346 0.54615 0 88.93 870.57)" x="0" y="0" font-family="'Liberation Serif', 'Times New Roman', serif" font-size="100" font-style="italic" fill="#262626" stroke="#ffffff" stroke-width="1.72" stroke-linejoin="round">β</text>
<text transform="matrix(0 -0.62667 0.67200 0 89.82 838.21)" x="0" y="0" font-family="'Liberation Serif', 'Times New Roman', serif" font-size="100" fill="#262626">,</text>
<text transform="matrix(0 -0.61346 0.54615 0 88.93 814.57)" x="0" y="0" font-family="'Liberation Serif', 'Times New Roman', serif" font-size="100" font-style="italic" fill="#262626" stroke="#ffffff" stroke-width="1.72" stroke-linejoin="round">β</text>
<text transform="matrix(0 -0.45938 0.60667 0 81.47 801.66)" x="0" y="0" font-family="'Liberation Serif', 'Times New Roman', serif" font-size="100" fill="#262626">ˆ</text>
<text transform="matrix(0 -0.48667 0.67200 0 89.82 779.55)" x="0" y="0" font-family="'Liberation Serif', 'Times New Roman', serif" font-size="100" fill="#262626">,</text>
<text transform="matrix(0 -0.62308 0.54945 0 88.96 756.85)" x="0" y="0" font-family="'Liberation Serif', 'Times New Roman', serif" font-size="100" font-style="italic" fill="#262626" stroke="#ffffff" stroke-width="1.71" stroke-linejoin="round">β</text>
<text transform="matrix(0 -0.61935 0.54615 0 75.39 748.12)" x="0" y="0" font-family="'Liberation Serif', 'Times New Roman', serif" font-size="100" fill="#262626">˜</text>
<text transform="matrix(0 -0.33913 0.65854 0 93.94 722.17)" x="0" y="0" font-family="'Liberation Serif', 'Times New Roman', serif" font-size="100" fill="#262626" stroke="#ffffff" stroke-width="1.60" stroke-linejoin="round">[</text>
<text transform="matrix(0 -0.60560 0.54286 0 89.86 711.11)" x="0" y="0" font-family="'Liberation Serif', 'Times New Roman', serif" font-size="100" fill="#262626" stroke="#ffffff" stroke-width="1.39" stroke-linejoin="round">rad</text>
<text transform="matrix(0 -0.44545 0.65000 0 93.65 635.38)" x="0" y="0" font-family="'Liberation Serif', 'Times New Roman', serif" font-size="100" fill="#262626" stroke="#ffffff" stroke-width="1.46" stroke-linejoin="round">]</text>
</svg>
</body></html>
